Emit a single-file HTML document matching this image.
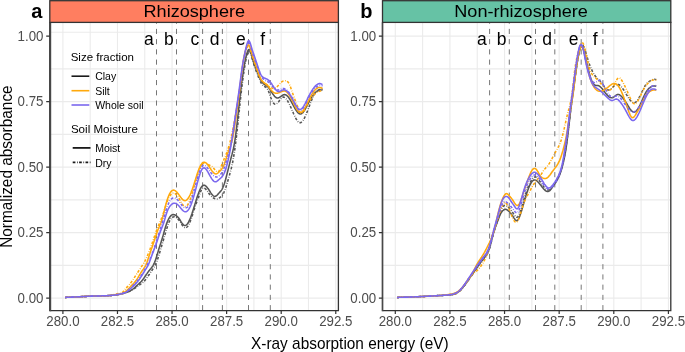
<!DOCTYPE html><html><head><meta charset="utf-8"><style>html,body{margin:0;padding:0;background:#fff;}svg{display:block;will-change:transform;}</style></head><body>
<svg width="685" height="352" viewBox="0 0 685 352" font-family='&quot;Liberation Sans&quot;, sans-serif'>
<rect width="685" height="352" fill="#fff"/>
<path d="M62.90,22.40V310.60M90.19,22.40V310.60M117.47,22.40V310.60M144.76,22.40V310.60M172.05,22.40V310.60M199.34,22.40V310.60M226.62,22.40V310.60M253.91,22.40V310.60M281.20,22.40V310.60M308.49,22.40V310.60M335.77,22.40V310.60M49.80,298.10H338.40M49.80,265.35H338.40M49.80,232.60H338.40M49.80,199.85H338.40M49.80,167.10H338.40M49.80,134.35H338.40M49.80,101.60H338.40M49.80,68.85H338.40M49.80,32.20H338.40" stroke="#EBEBEB" stroke-width="1.1" fill="none"/>
<path d="M156.50,310.20V22.40" stroke="#777" stroke-width="1" stroke-dasharray="5.12 5.11" fill="none"/><path d="M176.50,310.20V22.40" stroke="#777" stroke-width="1" stroke-dasharray="5.12 5.11" fill="none"/><path d="M202.60,310.20V22.40" stroke="#777" stroke-width="1" stroke-dasharray="5.12 5.11" fill="none"/><path d="M222.40,310.20V22.40" stroke="#777" stroke-width="1" stroke-dasharray="5.12 5.11" fill="none"/><path d="M248.50,310.20V22.40" stroke="#777" stroke-width="1" stroke-dasharray="5.12 5.11" fill="none"/><path d="M270.30,310.20V22.40" stroke="#777" stroke-width="1" stroke-dasharray="5.12 5.11" fill="none"/>
<text x="148.80" y="44.6" font-size="17.5" text-anchor="middle" fill="#000">a</text>
<text x="168.80" y="44.6" font-size="17.5" text-anchor="middle" fill="#000">b</text>
<text x="194.90" y="44.6" font-size="17.5" text-anchor="middle" fill="#000">c</text>
<text x="214.70" y="44.6" font-size="17.5" text-anchor="middle" fill="#000">d</text>
<text x="240.80" y="44.6" font-size="17.5" text-anchor="middle" fill="#000">e</text>
<text x="262.60" y="44.6" font-size="17.5" text-anchor="middle" fill="#000">f</text>
<text x="70.7" y="60.8" font-size="11.5" fill="#000">Size fraction</text><path d="M71.5,76.20H89.3" stroke="#1A1A1A" stroke-width="1.6"/><text x="95.2" y="80.00" font-size="10.5" fill="#000">Clay</text><path d="M71.5,90.70H89.3" stroke="#FFA90C" stroke-width="1.6"/><text x="95.2" y="94.50" font-size="10.5" fill="#000">Silt</text><path d="M71.5,105.00H89.3" stroke="#7B68EE" stroke-width="1.6"/><text x="95.2" y="108.80" font-size="10.5" fill="#000">Whole soil</text><text x="70.9" y="132.8" font-size="11.6" fill="#000">Soil Moisture</text><path d="M72.7,147.9H90.5" stroke="#1A1A1A" stroke-width="1.8"/><path d="M72.7,162.4H90.5" stroke="#1A1A1A" stroke-width="1.6" stroke-dasharray="2.7 1.6 0.7 1.4"/><text x="95.2" y="151.6" font-size="10.5" fill="#000">Moist</text><text x="95.2" y="167.0" font-size="10.5" fill="#000">Dry</text>
<path d="M65.0,297.4 L65.5,297.4 L66.0,297.4 L66.5,297.3 L67.0,297.3 L67.5,297.3 L68.0,297.3 L68.5,297.2 L69.0,297.2 L69.5,297.2 L70.0,297.2 L70.5,297.2 L71.0,297.1 L71.5,297.1 L72.0,297.1 L72.5,297.1 L73.0,297.0 L73.5,297.0 L74.0,297.0 L74.5,297.0 L75.0,296.9 L75.5,296.9 L76.0,296.9 L76.5,296.9 L77.0,296.9 L77.5,296.8 L78.0,296.8 L78.5,296.8 L79.0,296.8 L79.5,296.7 L80.0,296.7 L80.5,296.7 L81.0,296.6 L81.5,296.6 L82.0,296.6 L82.5,296.6 L83.0,296.5 L83.5,296.5 L84.0,296.5 L84.5,296.5 L85.0,296.4 L85.5,296.4 L86.0,296.4 L86.5,296.4 L87.0,296.3 L87.5,296.3 L88.0,296.3 L88.5,296.3 L89.0,296.2 L89.5,296.2 L90.0,296.2 L90.5,296.2 L91.0,296.1 L91.5,296.1 L92.0,296.1 L92.5,296.1 L93.0,296.1 L93.5,296.0 L94.0,296.0 L94.5,296.0 L95.0,296.0 L95.5,296.0 L96.0,296.0 L96.5,296.0 L97.0,296.0 L97.5,295.9 L98.0,295.9 L98.5,295.9 L99.0,295.9 L99.5,295.9 L100.0,295.9 L100.5,295.9 L101.0,295.9 L101.5,295.9 L102.0,295.9 L102.5,295.8 L103.0,295.8 L103.5,295.8 L104.0,295.8 L104.5,295.8 L105.0,295.8 L105.5,295.7 L106.0,295.7 L106.5,295.7 L107.0,295.7 L107.5,295.7 L108.0,295.6 L108.5,295.6 L109.0,295.6 L109.5,295.5 L110.0,295.5 L110.5,295.5 L111.0,295.4 L111.5,295.4 L112.0,295.3 L112.5,295.3 L113.0,295.2 L113.5,295.2 L114.0,295.1 L114.5,295.1 L115.0,295.0 L115.5,294.9 L116.0,294.9 L116.5,294.8 L117.0,294.7 L117.5,294.6 L118.0,294.6 L118.5,294.5 L119.0,294.4 L119.5,294.3 L120.0,294.2 L120.5,294.1 L121.0,294.0 L121.5,293.9 L122.0,293.8 L122.5,293.7 L123.0,293.6 L123.5,293.4 L124.0,293.3 L124.5,293.1 L125.0,293.0 L125.5,292.8 L126.0,292.7 L126.5,292.5 L127.0,292.3 L127.5,292.2 L128.0,292.0 L128.5,291.8 L129.0,291.6 L129.5,291.3 L130.0,291.1 L130.5,290.9 L131.0,290.6 L131.5,290.4 L132.0,290.1 L132.5,289.8 L133.0,289.5 L133.5,289.2 L134.0,288.8 L134.5,288.5 L135.0,288.1 L135.5,287.8 L136.0,287.4 L136.5,287.0 L137.0,286.7 L137.5,286.3 L138.0,285.9 L138.5,285.6 L139.0,285.2 L139.5,284.9 L140.0,284.6 L140.5,284.2 L141.0,283.9 L141.5,283.5 L142.0,283.2 L142.5,282.8 L143.0,282.3 L143.5,281.9 L144.0,281.4 L144.5,280.9 L145.0,280.3 L145.5,279.7 L146.0,279.1 L146.5,278.4 L147.0,277.7 L147.5,277.0 L148.0,276.3 L148.5,275.5 L149.0,274.8 L149.5,274.1 L150.0,273.3 L150.5,272.6 L151.0,271.8 L151.5,271.1 L152.0,270.3 L152.5,269.5 L153.0,268.8 L153.5,268.0 L154.0,267.2 L154.5,266.3 L155.0,265.4 L155.5,264.5 L156.0,263.4 L156.5,262.3 L157.0,261.0 L157.5,259.6 L158.0,258.1 L158.5,256.5 L159.0,254.8 L159.5,253.2 L160.0,251.5 L160.5,249.7 L161.0,248.0 L161.5,246.4 L162.0,244.7 L162.5,243.0 L163.0,241.4 L163.5,239.7 L164.0,238.0 L164.5,236.3 L165.0,234.6 L165.5,232.9 L166.0,231.2 L166.5,229.5 L167.0,227.9 L167.5,226.4 L168.0,224.9 L168.5,223.6 L169.0,222.3 L169.5,221.2 L170.0,220.2 L170.5,219.4 L171.0,218.7 L171.5,218.1 L172.0,217.6 L172.5,217.3 L173.0,217.0 L173.5,216.9 L174.0,216.8 L174.5,216.8 L175.0,216.9 L175.5,217.1 L176.0,217.3 L176.5,217.7 L177.0,218.1 L177.5,218.5 L178.0,219.1 L178.5,219.7 L179.0,220.3 L179.5,221.0 L180.0,221.7 L180.5,222.5 L181.0,223.3 L181.5,224.1 L182.0,224.8 L182.5,225.5 L183.0,226.1 L183.5,226.7 L184.0,227.2 L184.5,227.5 L185.0,227.7 L185.5,227.8 L186.0,227.7 L186.5,227.4 L187.0,227.0 L187.5,226.5 L188.0,225.9 L188.5,225.1 L189.0,224.2 L189.5,223.2 L190.0,222.0 L190.5,220.7 L191.0,219.4 L191.5,217.9 L192.0,216.4 L192.5,214.9 L193.0,213.3 L193.5,211.7 L194.0,210.1 L194.5,208.5 L195.0,207.0 L195.5,205.5 L196.0,204.1 L196.5,202.7 L197.0,201.4 L197.5,200.0 L198.0,198.7 L198.5,197.4 L199.0,196.0 L199.5,194.6 L200.0,193.3 L200.5,192.0 L201.0,190.8 L201.5,189.8 L202.0,189.1 L202.5,188.5 L203.0,188.2 L203.5,188.0 L204.0,188.0 L204.5,188.2 L205.0,188.5 L205.5,188.9 L206.0,189.4 L206.5,190.0 L207.0,190.7 L207.5,191.4 L208.0,192.1 L208.5,192.8 L209.0,193.5 L209.5,194.2 L210.0,194.8 L210.5,195.4 L211.0,195.9 L211.5,196.4 L212.0,196.9 L212.5,197.3 L213.0,197.7 L213.5,198.0 L214.0,198.3 L214.5,198.5 L215.0,198.7 L215.5,198.8 L216.0,198.9 L216.5,198.9 L217.0,198.9 L217.5,198.8 L218.0,198.6 L218.5,198.4 L219.0,198.1 L219.5,197.8 L220.0,197.5 L220.5,197.1 L221.0,196.7 L221.5,196.2 L222.0,195.6 L222.5,195.0 L223.0,194.2 L223.5,193.3 L224.0,192.3 L224.5,191.1 L225.0,189.8 L225.5,188.4 L226.0,186.9 L226.5,185.3 L227.0,183.6 L227.5,182.0 L228.0,180.3 L228.5,178.5 L229.0,176.8 L229.5,175.1 L230.0,173.3 L230.5,171.5 L231.0,169.6 L231.5,167.6 L232.0,165.4 L232.5,163.1 L233.0,160.5 L233.5,157.7 L234.0,154.7 L234.5,151.4 L235.0,147.9 L235.5,144.2 L236.0,140.2 L236.5,136.1 L237.0,131.8 L237.5,127.3 L238.0,122.7 L238.5,118.0 L239.0,113.2 L239.5,108.4 L240.0,103.7 L240.5,99.0 L241.0,94.4 L241.5,90.0 L242.0,85.8 L242.5,81.9 L243.0,78.1 L243.5,74.6 L244.0,71.2 L244.5,68.0 L245.0,65.0 L245.5,62.1 L246.0,59.5 L246.5,57.1 L247.0,55.0 L247.5,53.2 L248.0,51.8 L248.5,50.9 L249.0,50.5 L249.5,50.8 L250.0,51.6 L250.5,52.8 L251.0,54.4 L251.5,56.1 L252.0,58.0 L252.5,59.9 L253.0,61.7 L253.5,63.3 L254.0,64.9 L254.5,66.4 L255.0,67.9 L255.5,69.2 L256.0,70.6 L256.5,71.9 L257.0,73.2 L257.5,74.5 L258.0,75.8 L258.5,77.1 L259.0,78.3 L259.5,79.5 L260.0,80.6 L260.5,81.6 L261.0,82.6 L261.5,83.5 L262.0,84.2 L262.5,84.9 L263.0,85.4 L263.5,85.9 L264.0,86.3 L264.5,86.5 L265.0,86.8 L265.5,87.0 L266.0,87.3 L266.5,87.7 L267.0,88.3 L267.5,89.1 L268.0,90.1 L268.5,91.2 L269.0,92.5 L269.5,93.9 L270.0,95.3 L270.5,96.7 L271.0,98.1 L271.5,99.4 L272.0,100.5 L272.5,101.5 L273.0,102.4 L273.5,103.1 L274.0,103.6 L274.5,104.0 L275.0,104.2 L275.5,104.2 L276.0,104.1 L276.5,103.9 L277.0,103.5 L277.5,103.1 L278.0,102.5 L278.5,101.9 L279.0,101.2 L279.5,100.5 L280.0,99.9 L280.5,99.2 L281.0,98.6 L281.5,98.1 L282.0,97.7 L282.5,97.3 L283.0,97.1 L283.5,97.1 L284.0,97.2 L284.5,97.4 L285.0,97.7 L285.5,98.1 L286.0,98.6 L286.5,99.3 L287.0,100.0 L287.5,100.7 L288.0,101.6 L288.5,102.5 L289.0,103.4 L289.5,104.5 L290.0,105.5 L290.5,106.6 L291.0,107.7 L291.5,108.8 L292.0,110.0 L292.5,111.2 L293.0,112.3 L293.5,113.5 L294.0,114.6 L294.5,115.7 L295.0,116.7 L295.5,117.7 L296.0,118.7 L296.5,119.5 L297.0,120.3 L297.5,121.0 L298.0,121.6 L298.5,122.1 L299.0,122.4 L299.5,122.6 L300.0,122.7 L300.5,122.7 L301.0,122.5 L301.5,122.1 L302.0,121.7 L302.5,121.1 L303.0,120.5 L303.5,119.7 L304.0,118.8 L304.5,117.9 L305.0,116.9 L305.5,115.8 L306.0,114.7 L306.5,113.5 L307.0,112.2 L307.5,111.0 L308.0,109.7 L308.5,108.3 L309.0,107.0 L309.5,105.7 L310.0,104.3 L310.5,103.0 L311.0,101.7 L311.5,100.5 L312.0,99.3 L312.5,98.1 L313.0,97.0 L313.5,95.9 L314.0,95.0 L314.5,94.1 L315.0,93.3 L315.5,92.6 L316.0,92.0 L316.5,91.4 L317.0,91.0 L317.5,90.6 L318.0,90.2 L318.5,90.0 L319.0,89.7 L319.5,89.6 L320.0,89.4 L320.5,89.3 L321.0,89.2 L321.5,89.1 L322.0,89.1 L322.5,89.0" stroke="#555555" stroke-width="1.55" fill="none" stroke-linejoin="round" stroke-dasharray="2.7 1.6 0.7 1.4"/>
<path d="M65.0,297.4 L65.5,297.4 L66.0,297.4 L66.5,297.3 L67.0,297.3 L67.5,297.3 L68.0,297.3 L68.5,297.2 L69.0,297.2 L69.5,297.2 L70.0,297.2 L70.5,297.2 L71.0,297.1 L71.5,297.1 L72.0,297.1 L72.5,297.1 L73.0,297.0 L73.5,297.0 L74.0,297.0 L74.5,297.0 L75.0,296.9 L75.5,296.9 L76.0,296.9 L76.5,296.9 L77.0,296.9 L77.5,296.8 L78.0,296.8 L78.5,296.8 L79.0,296.8 L79.5,296.7 L80.0,296.7 L80.5,296.7 L81.0,296.6 L81.5,296.6 L82.0,296.6 L82.5,296.6 L83.0,296.5 L83.5,296.5 L84.0,296.5 L84.5,296.5 L85.0,296.4 L85.5,296.4 L86.0,296.4 L86.5,296.4 L87.0,296.3 L87.5,296.3 L88.0,296.3 L88.5,296.3 L89.0,296.2 L89.5,296.2 L90.0,296.2 L90.5,296.2 L91.0,296.1 L91.5,296.1 L92.0,296.1 L92.5,296.1 L93.0,296.1 L93.5,296.0 L94.0,296.0 L94.5,296.0 L95.0,296.0 L95.5,296.0 L96.0,296.0 L96.5,296.0 L97.0,295.9 L97.5,295.9 L98.0,295.9 L98.5,295.9 L99.0,295.9 L99.5,295.9 L100.0,295.9 L100.5,295.9 L101.0,295.9 L101.5,295.9 L102.0,295.8 L102.5,295.8 L103.0,295.8 L103.5,295.8 L104.0,295.8 L104.5,295.8 L105.0,295.8 L105.5,295.7 L106.0,295.7 L106.5,295.7 L107.0,295.7 L107.5,295.7 L108.0,295.6 L108.5,295.6 L109.0,295.6 L109.5,295.5 L110.0,295.5 L110.5,295.5 L111.0,295.4 L111.5,295.4 L112.0,295.3 L112.5,295.3 L113.0,295.2 L113.5,295.2 L114.0,295.1 L114.5,295.1 L115.0,295.0 L115.5,294.9 L116.0,294.9 L116.5,294.8 L117.0,294.7 L117.5,294.6 L118.0,294.5 L118.5,294.5 L119.0,294.4 L119.5,294.3 L120.0,294.2 L120.5,294.1 L121.0,293.9 L121.5,293.8 L122.0,293.7 L122.5,293.6 L123.0,293.4 L123.5,293.3 L124.0,293.2 L124.5,293.0 L125.0,292.9 L125.5,292.7 L126.0,292.5 L126.5,292.3 L127.0,292.2 L127.5,292.0 L128.0,291.8 L128.5,291.6 L129.0,291.3 L129.5,291.1 L130.0,290.9 L130.5,290.6 L131.0,290.3 L131.5,290.0 L132.0,289.7 L132.5,289.4 L133.0,289.0 L133.5,288.6 L134.0,288.2 L134.5,287.8 L135.0,287.3 L135.5,286.9 L136.0,286.4 L136.5,285.9 L137.0,285.4 L137.5,285.0 L138.0,284.5 L138.5,284.0 L139.0,283.6 L139.5,283.1 L140.0,282.7 L140.5,282.2 L141.0,281.7 L141.5,281.2 L142.0,280.6 L142.5,280.0 L143.0,279.3 L143.5,278.7 L144.0,278.0 L144.5,277.2 L145.0,276.5 L145.5,275.8 L146.0,275.0 L146.5,274.3 L147.0,273.6 L147.5,272.8 L148.0,272.1 L148.5,271.5 L149.0,270.8 L149.5,270.2 L150.0,269.6 L150.5,269.0 L151.0,268.4 L151.5,267.7 L152.0,267.1 L152.5,266.4 L153.0,265.6 L153.5,264.7 L154.0,263.7 L154.5,262.6 L155.0,261.4 L155.5,260.0 L156.0,258.5 L156.5,256.9 L157.0,255.3 L157.5,253.6 L158.0,251.9 L158.5,250.2 L159.0,248.6 L159.5,247.0 L160.0,245.5 L160.5,243.9 L161.0,242.4 L161.5,240.8 L162.0,239.2 L162.5,237.6 L163.0,235.9 L163.5,234.1 L164.0,232.2 L164.5,230.4 L165.0,228.7 L165.5,227.0 L166.0,225.4 L166.5,223.9 L167.0,222.6 L167.5,221.4 L168.0,220.3 L168.5,219.2 L169.0,218.3 L169.5,217.5 L170.0,216.8 L170.5,216.1 L171.0,215.6 L171.5,215.2 L172.0,214.9 L172.5,214.7 L173.0,214.6 L173.5,214.6 L174.0,214.7 L174.5,214.8 L175.0,215.0 L175.5,215.2 L176.0,215.5 L176.5,215.8 L177.0,216.3 L177.5,216.7 L178.0,217.2 L178.5,217.8 L179.0,218.5 L179.5,219.2 L180.0,220.0 L180.5,220.8 L181.0,221.6 L181.5,222.3 L182.0,223.1 L182.5,223.8 L183.0,224.3 L183.5,224.8 L184.0,225.2 L184.5,225.4 L185.0,225.5 L185.5,225.4 L186.0,225.2 L186.5,224.8 L187.0,224.3 L187.5,223.7 L188.0,223.0 L188.5,222.2 L189.0,221.2 L189.5,220.2 L190.0,219.0 L190.5,217.8 L191.0,216.4 L191.5,215.0 L192.0,213.6 L192.5,212.0 L193.0,210.5 L193.5,208.9 L194.0,207.3 L194.5,205.6 L195.0,204.0 L195.5,202.4 L196.0,200.8 L196.5,199.2 L197.0,197.6 L197.5,196.1 L198.0,194.7 L198.5,193.3 L199.0,192.0 L199.5,190.8 L200.0,189.6 L200.5,188.6 L201.0,187.7 L201.5,186.9 L202.0,186.3 L202.5,185.8 L203.0,185.5 L203.5,185.3 L204.0,185.2 L204.5,185.3 L205.0,185.5 L205.5,185.8 L206.0,186.2 L206.5,186.7 L207.0,187.2 L207.5,187.9 L208.0,188.5 L208.5,189.3 L209.0,190.0 L209.5,190.8 L210.0,191.5 L210.5,192.3 L211.0,193.1 L211.5,193.8 L212.0,194.4 L212.5,195.0 L213.0,195.5 L213.5,195.9 L214.0,196.2 L214.5,196.4 L215.0,196.4 L215.5,196.3 L216.0,196.0 L216.5,195.7 L217.0,195.2 L217.5,194.7 L218.0,194.1 L218.5,193.6 L219.0,193.0 L219.5,192.5 L220.0,191.9 L220.5,191.4 L221.0,190.8 L221.5,190.1 L222.0,189.3 L222.5,188.4 L223.0,187.3 L223.5,186.1 L224.0,184.7 L224.5,183.2 L225.0,181.5 L225.5,179.8 L226.0,177.9 L226.5,176.0 L227.0,174.1 L227.5,172.1 L228.0,170.1 L228.5,168.1 L229.0,166.1 L229.5,164.1 L230.0,162.1 L230.5,160.1 L231.0,158.1 L231.5,156.2 L232.0,154.4 L232.5,152.4 L233.0,150.4 L233.5,148.2 L234.0,145.7 L234.5,142.9 L235.0,139.8 L235.5,136.3 L236.0,132.4 L236.5,128.3 L237.0,124.0 L237.5,119.6 L238.0,115.0 L238.5,110.4 L239.0,105.7 L239.5,101.1 L240.0,96.6 L240.5,92.2 L241.0,88.0 L241.5,84.0 L242.0,80.2 L242.5,76.6 L243.0,73.2 L243.5,70.0 L244.0,67.0 L244.5,64.2 L245.0,61.6 L245.5,59.2 L246.0,57.0 L246.5,55.0 L247.0,53.2 L247.5,51.7 L248.0,50.5 L248.5,49.7 L249.0,49.5 L249.5,49.8 L250.0,50.6 L250.5,51.8 L251.0,53.3 L251.5,55.0 L252.0,56.7 L252.5,58.5 L253.0,60.2 L253.5,61.7 L254.0,63.2 L254.5,64.7 L255.0,66.0 L255.5,67.4 L256.0,68.7 L256.5,70.0 L257.0,71.3 L257.5,72.6 L258.0,73.9 L258.5,75.1 L259.0,76.3 L259.5,77.4 L260.0,78.5 L260.5,79.5 L261.0,80.4 L261.5,81.2 L262.0,82.0 L262.5,82.6 L263.0,83.2 L263.5,83.7 L264.0,84.1 L264.5,84.5 L265.0,84.9 L265.5,85.2 L266.0,85.5 L266.5,85.9 L267.0,86.2 L267.5,86.6 L268.0,87.0 L268.5,87.5 L269.0,88.1 L269.5,88.8 L270.0,89.5 L270.5,90.2 L271.0,91.0 L271.5,91.8 L272.0,92.7 L272.5,93.5 L273.0,94.2 L273.5,94.9 L274.0,95.6 L274.5,96.2 L275.0,96.7 L275.5,97.2 L276.0,97.5 L276.5,97.8 L277.0,98.0 L277.5,98.0 L278.0,98.0 L278.5,97.8 L279.0,97.6 L279.5,97.3 L280.0,97.0 L280.5,96.7 L281.0,96.3 L281.5,96.0 L282.0,95.6 L282.5,95.3 L283.0,95.0 L283.5,94.8 L284.0,94.7 L284.5,94.6 L285.0,94.7 L285.5,94.8 L286.0,95.0 L286.5,95.3 L287.0,95.7 L287.5,96.2 L288.0,96.7 L288.5,97.3 L289.0,98.0 L289.5,98.7 L290.0,99.5 L290.5,100.3 L291.0,101.2 L291.5,102.1 L292.0,103.0 L292.5,103.9 L293.0,104.9 L293.5,105.8 L294.0,106.7 L294.5,107.6 L295.0,108.5 L295.5,109.4 L296.0,110.2 L296.5,110.9 L297.0,111.6 L297.5,112.2 L298.0,112.8 L298.5,113.2 L299.0,113.6 L299.5,113.8 L300.0,114.0 L300.5,114.0 L301.0,113.9 L301.5,113.7 L302.0,113.3 L302.5,112.9 L303.0,112.4 L303.5,111.7 L304.0,111.1 L304.5,110.3 L305.0,109.5 L305.5,108.6 L306.0,107.7 L306.5,106.8 L307.0,105.8 L307.5,104.8 L308.0,103.9 L308.5,102.9 L309.0,102.0 L309.5,101.0 L310.0,100.1 L310.5,99.3 L311.0,98.4 L311.5,97.6 L312.0,96.8 L312.5,96.1 L313.0,95.4 L313.5,94.7 L314.0,94.1 L314.5,93.5 L315.0,92.9 L315.5,92.4 L316.0,92.0 L316.5,91.6 L317.0,91.3 L317.5,91.0 L318.0,90.8 L318.5,90.6 L319.0,90.4 L319.5,90.2 L320.0,90.1 L320.5,90.0 L321.0,90.0 L321.5,89.9 L322.0,89.9 L322.5,89.8" stroke="#555555" stroke-width="1.55" fill="none" stroke-linejoin="round"/>
<path d="M65.0,297.4 L65.5,297.4 L66.0,297.4 L66.5,297.3 L67.0,297.3 L67.5,297.3 L68.0,297.3 L68.5,297.3 L69.0,297.2 L69.5,297.2 L70.0,297.2 L70.5,297.2 L71.0,297.2 L71.5,297.1 L72.0,297.1 L72.5,297.1 L73.0,297.1 L73.5,297.0 L74.0,297.0 L74.5,297.0 L75.0,297.0 L75.5,296.9 L76.0,296.9 L76.5,296.9 L77.0,296.9 L77.5,296.8 L78.0,296.8 L78.5,296.8 L79.0,296.8 L79.5,296.7 L80.0,296.7 L80.5,296.7 L81.0,296.6 L81.5,296.6 L82.0,296.6 L82.5,296.5 L83.0,296.5 L83.5,296.5 L84.0,296.4 L84.5,296.4 L85.0,296.4 L85.5,296.3 L86.0,296.3 L86.5,296.3 L87.0,296.3 L87.5,296.2 L88.0,296.2 L88.5,296.2 L89.0,296.1 L89.5,296.1 L90.0,296.1 L90.5,296.1 L91.0,296.1 L91.5,296.0 L92.0,296.0 L92.5,296.0 L93.0,296.0 L93.5,296.0 L94.0,296.0 L94.5,296.0 L95.0,296.0 L95.5,296.0 L96.0,296.0 L96.5,296.0 L97.0,296.0 L97.5,296.0 L98.0,296.1 L98.5,296.1 L99.0,296.1 L99.5,296.1 L100.0,296.1 L100.5,296.1 L101.0,296.1 L101.5,296.1 L102.0,296.1 L102.5,296.1 L103.0,296.1 L103.5,296.1 L104.0,296.1 L104.5,296.1 L105.0,296.1 L105.5,296.0 L106.0,296.0 L106.5,296.0 L107.0,295.9 L107.5,295.9 L108.0,295.8 L108.5,295.8 L109.0,295.7 L109.5,295.6 L110.0,295.5 L110.5,295.4 L111.0,295.3 L111.5,295.2 L112.0,295.0 L112.5,294.9 L113.0,294.8 L113.5,294.6 L114.0,294.5 L114.5,294.4 L115.0,294.2 L115.5,294.1 L116.0,294.0 L116.5,293.9 L117.0,293.8 L117.5,293.7 L118.0,293.6 L118.5,293.5 L119.0,293.4 L119.5,293.3 L120.0,293.3 L120.5,293.2 L121.0,293.1 L121.5,292.9 L122.0,292.7 L122.5,292.3 L123.0,291.9 L123.5,291.4 L124.0,290.8 L124.5,290.2 L125.0,289.5 L125.5,288.9 L126.0,288.3 L126.5,287.7 L127.0,287.1 L127.5,286.6 L128.0,286.1 L128.5,285.5 L129.0,285.0 L129.5,284.4 L130.0,283.8 L130.5,283.2 L131.0,282.6 L131.5,281.9 L132.0,281.2 L132.5,280.5 L133.0,279.7 L133.5,278.9 L134.0,278.2 L134.5,277.4 L135.0,276.6 L135.5,275.8 L136.0,275.0 L136.5,274.3 L137.0,273.5 L137.5,272.8 L138.0,272.0 L138.5,271.3 L139.0,270.5 L139.5,269.8 L140.0,269.0 L140.5,268.3 L141.0,267.5 L141.5,266.7 L142.0,265.9 L142.5,265.1 L143.0,264.3 L143.5,263.5 L144.0,262.6 L144.5,261.7 L145.0,260.8 L145.5,259.8 L146.0,258.8 L146.5,257.7 L147.0,256.7 L147.5,255.5 L148.0,254.3 L148.5,253.1 L149.0,251.9 L149.5,250.6 L150.0,249.3 L150.5,247.9 L151.0,246.6 L151.5,245.2 L152.0,243.7 L152.5,242.3 L153.0,240.8 L153.5,239.3 L154.0,237.8 L154.5,236.3 L155.0,234.9 L155.5,233.4 L156.0,232.0 L156.5,230.6 L157.0,229.3 L157.5,228.0 L158.0,226.8 L158.5,225.6 L159.0,224.4 L159.5,223.2 L160.0,222.1 L160.5,220.9 L161.0,219.7 L161.5,218.4 L162.0,217.1 L162.5,215.7 L163.0,214.2 L163.5,212.7 L164.0,211.1 L164.5,209.6 L165.0,208.0 L165.5,206.4 L166.0,204.9 L166.5,203.4 L167.0,202.0 L167.5,200.7 L168.0,199.5 L168.5,198.4 L169.0,197.4 L169.5,196.5 L170.0,195.7 L170.5,195.0 L171.0,194.4 L171.5,193.9 L172.0,193.5 L172.5,193.2 L173.0,193.1 L173.5,193.0 L174.0,193.1 L174.5,193.2 L175.0,193.5 L175.5,193.9 L176.0,194.3 L176.5,194.9 L177.0,195.5 L177.5,196.2 L178.0,196.9 L178.5,197.7 L179.0,198.5 L179.5,199.4 L180.0,200.2 L180.5,201.1 L181.0,202.0 L181.5,202.8 L182.0,203.6 L182.5,204.4 L183.0,205.0 L183.5,205.6 L184.0,206.0 L184.5,206.3 L185.0,206.5 L185.5,206.5 L186.0,206.4 L186.5,206.1 L187.0,205.6 L187.5,205.0 L188.0,204.3 L188.5,203.4 L189.0,202.4 L189.5,201.3 L190.0,200.0 L190.5,198.6 L191.0,197.1 L191.5,195.5 L192.0,193.9 L192.5,192.1 L193.0,190.3 L193.5,188.5 L194.0,186.7 L194.5,184.8 L195.0,183.0 L195.5,181.2 L196.0,179.4 L196.5,177.7 L197.0,176.0 L197.5,174.4 L198.0,172.8 L198.5,171.4 L199.0,170.0 L199.5,168.8 L200.0,167.6 L200.5,166.6 L201.0,165.7 L201.5,164.9 L202.0,164.2 L202.5,163.7 L203.0,163.3 L203.5,163.0 L204.0,162.8 L204.5,162.8 L205.0,162.8 L205.5,163.0 L206.0,163.2 L206.5,163.4 L207.0,163.7 L207.5,164.0 L208.0,164.4 L208.5,164.7 L209.0,165.0 L209.5,165.3 L210.0,165.5 L210.5,165.8 L211.0,166.0 L211.5,166.3 L212.0,166.6 L212.5,167.0 L213.0,167.5 L213.5,168.1 L214.0,168.7 L214.5,169.3 L215.0,170.0 L215.5,170.6 L216.0,171.1 L216.5,171.5 L217.0,171.8 L217.5,172.0 L218.0,171.9 L218.5,171.6 L219.0,171.0 L219.5,170.3 L220.0,169.3 L220.5,168.2 L221.0,166.9 L221.5,165.6 L222.0,164.3 L222.5,163.0 L223.0,161.7 L223.5,160.5 L224.0,159.3 L224.5,158.1 L225.0,157.0 L225.5,155.8 L226.0,154.6 L226.5,153.3 L227.0,152.0 L227.5,150.6 L228.0,149.1 L228.5,147.5 L229.0,145.8 L229.5,144.0 L230.0,142.1 L230.5,140.1 L231.0,138.0 L231.5,135.8 L232.0,133.5 L232.5,131.1 L233.0,128.6 L233.5,126.0 L234.0,123.3 L234.5,120.6 L235.0,117.8 L235.5,114.9 L236.0,112.0 L236.5,109.0 L237.0,106.0 L237.5,102.9 L238.0,99.8 L238.5,96.5 L239.0,93.1 L239.5,89.6 L240.0,86.0 L240.5,82.3 L241.0,78.4 L241.5,74.6 L242.0,70.9 L242.5,67.3 L243.0,64.0 L243.5,61.0 L244.0,58.2 L244.5,55.7 L245.0,53.6 L245.5,51.6 L246.0,50.0 L246.5,48.6 L247.0,47.5 L247.5,46.8 L248.0,46.4 L248.5,46.4 L249.0,46.8 L249.5,47.6 L250.0,48.7 L250.5,50.1 L251.0,51.7 L251.5,53.3 L252.0,55.0 L252.5,56.6 L253.0,58.2 L253.5,59.8 L254.0,61.3 L254.5,62.7 L255.0,64.2 L255.5,65.6 L256.0,67.0 L256.5,68.4 L257.0,69.7 L257.5,71.1 L258.0,72.4 L258.5,73.6 L259.0,74.8 L259.5,75.9 L260.0,77.0 L260.5,78.0 L261.0,78.9 L261.5,79.8 L262.0,80.6 L262.5,81.3 L263.0,81.9 L263.5,82.5 L264.0,83.0 L264.5,83.4 L265.0,83.8 L265.5,84.2 L266.0,84.5 L266.5,84.8 L267.0,85.0 L267.5,85.3 L268.0,85.6 L268.5,85.8 L269.0,86.2 L269.5,86.5 L270.0,86.8 L270.5,87.2 L271.0,87.5 L271.5,87.8 L272.0,88.1 L272.5,88.3 L273.0,88.4 L273.5,88.5 L274.0,88.5 L274.5,88.4 L275.0,88.2 L275.5,87.9 L276.0,87.6 L276.5,87.2 L277.0,86.8 L277.5,86.3 L278.0,85.8 L278.5,85.2 L279.0,84.6 L279.5,84.1 L280.0,83.5 L280.5,83.0 L281.0,82.5 L281.5,82.1 L282.0,81.7 L282.5,81.4 L283.0,81.1 L283.5,80.9 L284.0,80.8 L284.5,80.7 L285.0,80.7 L285.5,80.7 L286.0,80.8 L286.5,81.0 L287.0,81.2 L287.5,81.6 L288.0,82.0 L288.5,82.7 L289.0,83.5 L289.5,84.5 L290.0,85.7 L290.5,87.0 L291.0,88.4 L291.5,89.9 L292.0,91.4 L292.5,92.9 L293.0,94.3 L293.5,95.8 L294.0,97.1 L294.5,98.5 L295.0,99.8 L295.5,101.1 L296.0,102.4 L296.5,103.7 L297.0,105.0 L297.5,106.3 L298.0,107.6 L298.5,108.9 L299.0,110.0 L299.5,111.1 L300.0,111.9 L300.5,112.6 L301.0,113.1 L301.5,113.3 L302.0,113.3 L302.5,113.0 L303.0,112.5 L303.5,111.8 L304.0,111.0 L304.5,110.0 L305.0,109.0 L305.5,108.0 L306.0,107.0 L306.5,106.0 L307.0,105.1 L307.5,104.1 L308.0,103.3 L308.5,102.4 L309.0,101.6 L309.5,100.8 L310.0,100.0 L310.5,99.3 L311.0,98.5 L311.5,97.8 L312.0,97.2 L312.5,96.5 L313.0,95.9 L313.5,95.3 L314.0,94.8 L314.5,94.3 L315.0,93.8 L315.5,93.4 L316.0,93.0 L316.5,92.7 L317.0,92.3 L317.5,92.1 L318.0,91.8 L318.5,91.6 L319.0,91.4 L319.5,91.3 L320.0,91.1 L320.5,91.0 L321.0,90.9 L321.5,90.8 L322.0,90.7 L322.5,90.6" stroke="#FFA90C" stroke-width="1.55" fill="none" stroke-linejoin="round" stroke-dasharray="2.7 1.6 0.7 1.4"/>
<path d="M65.0,297.4 L65.5,297.4 L66.0,297.4 L66.5,297.3 L67.0,297.3 L67.5,297.3 L68.0,297.3 L68.5,297.2 L69.0,297.2 L69.5,297.2 L70.0,297.2 L70.5,297.2 L71.0,297.1 L71.5,297.1 L72.0,297.1 L72.5,297.1 L73.0,297.0 L73.5,297.0 L74.0,297.0 L74.5,297.0 L75.0,296.9 L75.5,296.9 L76.0,296.9 L76.5,296.9 L77.0,296.9 L77.5,296.8 L78.0,296.8 L78.5,296.8 L79.0,296.8 L79.5,296.7 L80.0,296.7 L80.5,296.7 L81.0,296.6 L81.5,296.6 L82.0,296.6 L82.5,296.6 L83.0,296.5 L83.5,296.5 L84.0,296.5 L84.5,296.5 L85.0,296.4 L85.5,296.4 L86.0,296.4 L86.5,296.4 L87.0,296.3 L87.5,296.3 L88.0,296.3 L88.5,296.3 L89.0,296.2 L89.5,296.2 L90.0,296.2 L90.5,296.2 L91.0,296.1 L91.5,296.1 L92.0,296.1 L92.5,296.1 L93.0,296.1 L93.5,296.0 L94.0,296.0 L94.5,296.0 L95.0,296.0 L95.5,296.0 L96.0,296.0 L96.5,296.0 L97.0,296.0 L97.5,295.9 L98.0,295.9 L98.5,295.9 L99.0,295.9 L99.5,295.9 L100.0,295.9 L100.5,295.9 L101.0,295.9 L101.5,295.9 L102.0,295.9 L102.5,295.9 L103.0,295.8 L103.5,295.8 L104.0,295.8 L104.5,295.8 L105.0,295.8 L105.5,295.8 L106.0,295.7 L106.5,295.7 L107.0,295.7 L107.5,295.7 L108.0,295.6 L108.5,295.6 L109.0,295.6 L109.5,295.5 L110.0,295.5 L110.5,295.5 L111.0,295.4 L111.5,295.4 L112.0,295.3 L112.5,295.3 L113.0,295.2 L113.5,295.1 L114.0,295.1 L114.5,295.0 L115.0,294.9 L115.5,294.9 L116.0,294.8 L116.5,294.7 L117.0,294.7 L117.5,294.6 L118.0,294.5 L118.5,294.4 L119.0,294.3 L119.5,294.2 L120.0,294.1 L120.5,294.0 L121.0,293.9 L121.5,293.7 L122.0,293.5 L122.5,293.3 L123.0,293.1 L123.5,292.8 L124.0,292.5 L124.5,292.2 L125.0,291.9 L125.5,291.5 L126.0,291.1 L126.5,290.7 L127.0,290.2 L127.5,289.7 L128.0,289.2 L128.5,288.7 L129.0,288.2 L129.5,287.7 L130.0,287.2 L130.5,286.6 L131.0,286.1 L131.5,285.6 L132.0,285.1 L132.5,284.6 L133.0,284.1 L133.5,283.5 L134.0,283.0 L134.5,282.4 L135.0,281.9 L135.5,281.2 L136.0,280.6 L136.5,279.9 L137.0,279.2 L137.5,278.4 L138.0,277.6 L138.5,276.7 L139.0,275.9 L139.5,275.0 L140.0,274.2 L140.5,273.3 L141.0,272.5 L141.5,271.8 L142.0,271.0 L142.5,270.3 L143.0,269.6 L143.5,268.9 L144.0,268.1 L144.5,267.3 L145.0,266.5 L145.5,265.6 L146.0,264.6 L146.5,263.4 L147.0,262.2 L147.5,260.8 L148.0,259.3 L148.5,257.8 L149.0,256.2 L149.5,254.7 L150.0,253.2 L150.5,251.7 L151.0,250.2 L151.5,248.8 L152.0,247.4 L152.5,245.9 L153.0,244.5 L153.5,243.0 L154.0,241.5 L154.5,240.0 L155.0,238.4 L155.5,236.9 L156.0,235.4 L156.5,233.9 L157.0,232.4 L157.5,231.1 L158.0,229.7 L158.5,228.5 L159.0,227.3 L159.5,226.2 L160.0,225.0 L160.5,223.8 L161.0,222.5 L161.5,221.1 L162.0,219.6 L162.5,217.9 L163.0,216.1 L163.5,214.1 L164.0,212.1 L164.5,210.0 L165.0,207.9 L165.5,205.9 L166.0,204.0 L166.5,202.2 L167.0,200.5 L167.5,199.0 L168.0,197.5 L168.5,196.2 L169.0,195.0 L169.5,194.0 L170.0,193.1 L170.5,192.3 L171.0,191.6 L171.5,191.1 L172.0,190.7 L172.5,190.4 L173.0,190.2 L173.5,190.1 L174.0,190.2 L174.5,190.3 L175.0,190.6 L175.5,190.9 L176.0,191.3 L176.5,191.8 L177.0,192.3 L177.5,192.9 L178.0,193.5 L178.5,194.2 L179.0,194.9 L179.5,195.6 L180.0,196.3 L180.5,197.0 L181.0,197.6 L181.5,198.3 L182.0,198.9 L182.5,199.4 L183.0,199.8 L183.5,200.2 L184.0,200.5 L184.5,200.6 L185.0,200.7 L185.5,200.6 L186.0,200.4 L186.5,200.1 L187.0,199.7 L187.5,199.1 L188.0,198.5 L188.5,197.8 L189.0,197.0 L189.5,196.0 L190.0,195.0 L190.5,193.9 L191.0,192.7 L191.5,191.4 L192.0,190.1 L192.5,188.7 L193.0,187.2 L193.5,185.7 L194.0,184.2 L194.5,182.6 L195.0,181.0 L195.5,179.4 L196.0,177.8 L196.5,176.2 L197.0,174.7 L197.5,173.1 L198.0,171.7 L198.5,170.3 L199.0,169.0 L199.5,167.8 L200.0,166.7 L200.5,165.7 L201.0,164.8 L201.5,164.1 L202.0,163.4 L202.5,162.9 L203.0,162.6 L203.5,162.3 L204.0,162.2 L204.5,162.2 L205.0,162.4 L205.5,162.6 L206.0,163.0 L206.5,163.4 L207.0,163.9 L207.5,164.5 L208.0,165.1 L208.5,165.8 L209.0,166.5 L209.5,167.2 L210.0,168.0 L210.5,168.7 L211.0,169.5 L211.5,170.2 L212.0,170.9 L212.5,171.5 L213.0,172.1 L213.5,172.6 L214.0,173.1 L214.5,173.5 L215.0,173.7 L215.5,173.9 L216.0,173.9 L216.5,173.8 L217.0,173.6 L217.5,173.3 L218.0,172.9 L218.5,172.5 L219.0,172.0 L219.5,171.5 L220.0,171.0 L220.5,170.5 L221.0,169.9 L221.5,169.3 L222.0,168.7 L222.5,167.9 L223.0,167.0 L223.5,166.0 L224.0,164.9 L224.5,163.6 L225.0,162.1 L225.5,160.6 L226.0,159.0 L226.5,157.4 L227.0,155.8 L227.5,154.1 L228.0,152.6 L228.5,151.1 L229.0,149.7 L229.5,148.3 L230.0,147.1 L230.5,145.7 L231.0,144.3 L231.5,142.7 L232.0,140.8 L232.5,138.7 L233.0,136.2 L233.5,133.4 L234.0,130.4 L234.5,127.3 L235.0,123.9 L235.5,120.5 L236.0,117.0 L236.5,113.5 L237.0,109.9 L237.5,106.3 L238.0,102.6 L238.5,98.9 L239.0,95.0 L239.5,91.1 L240.0,87.0 L240.5,82.8 L241.0,78.6 L241.5,74.4 L242.0,70.3 L242.5,66.5 L243.0,63.0 L243.5,59.9 L244.0,57.1 L244.5,54.7 L245.0,52.5 L245.5,50.6 L246.0,49.0 L246.5,47.6 L247.0,46.4 L247.5,45.5 L248.0,45.0 L248.5,44.9 L249.0,45.3 L249.5,46.1 L250.0,47.3 L250.5,48.7 L251.0,50.4 L251.5,52.1 L252.0,53.9 L252.5,55.6 L253.0,57.2 L253.5,58.7 L254.0,60.1 L254.5,61.5 L255.0,62.9 L255.5,64.4 L256.0,65.9 L256.5,67.5 L257.0,69.1 L257.5,70.6 L258.0,72.1 L258.5,73.5 L259.0,74.9 L259.5,76.1 L260.0,77.3 L260.5,78.3 L261.0,79.3 L261.5,80.1 L262.0,80.8 L262.5,81.3 L263.0,81.8 L263.5,82.2 L264.0,82.6 L264.5,82.9 L265.0,83.3 L265.5,83.6 L266.0,83.9 L266.5,84.3 L267.0,84.8 L267.5,85.3 L268.0,85.9 L268.5,86.5 L269.0,87.2 L269.5,87.9 L270.0,88.5 L270.5,89.2 L271.0,89.9 L271.5,90.5 L272.0,91.0 L272.5,91.5 L273.0,91.9 L273.5,92.3 L274.0,92.6 L274.5,92.9 L275.0,93.1 L275.5,93.2 L276.0,93.3 L276.5,93.3 L277.0,93.3 L277.5,93.2 L278.0,93.1 L278.5,92.9 L279.0,92.7 L279.5,92.5 L280.0,92.3 L280.5,92.1 L281.0,91.9 L281.5,91.6 L282.0,91.5 L282.5,91.3 L283.0,91.2 L283.5,91.1 L284.0,91.0 L284.5,91.0 L285.0,91.1 L285.5,91.3 L286.0,91.5 L286.5,91.8 L287.0,92.2 L287.5,92.7 L288.0,93.3 L288.5,94.0 L289.0,94.7 L289.5,95.5 L290.0,96.3 L290.5,97.1 L291.0,98.1 L291.5,99.0 L292.0,100.0 L292.5,101.0 L293.0,102.0 L293.5,103.1 L294.0,104.1 L294.5,105.1 L295.0,106.1 L295.5,107.1 L296.0,108.0 L296.5,108.8 L297.0,109.6 L297.5,110.3 L298.0,111.0 L298.5,111.5 L299.0,111.9 L299.5,112.3 L300.0,112.4 L300.5,112.5 L301.0,112.4 L301.5,112.2 L302.0,111.9 L302.5,111.4 L303.0,110.8 L303.5,110.1 L304.0,109.4 L304.5,108.6 L305.0,107.7 L305.5,106.7 L306.0,105.8 L306.5,104.7 L307.0,103.7 L307.5,102.7 L308.0,101.6 L308.5,100.6 L309.0,99.6 L309.5,98.6 L310.0,97.6 L310.5,96.7 L311.0,95.8 L311.5,94.9 L312.0,94.1 L312.5,93.3 L313.0,92.6 L313.5,91.9 L314.0,91.2 L314.5,90.6 L315.0,90.0 L315.5,89.5 L316.0,89.0 L316.5,88.6 L317.0,88.3 L317.5,88.0 L318.0,87.7 L318.5,87.6 L319.0,87.5 L319.5,87.5 L320.0,87.5 L320.5,87.6 L321.0,87.8 L321.5,88.0 L322.0,88.2 L322.5,88.5" stroke="#FFA90C" stroke-width="1.55" fill="none" stroke-linejoin="round"/>
<path d="M65.0,297.4 L65.5,297.4 L66.0,297.4 L66.5,297.3 L67.0,297.3 L67.5,297.3 L68.0,297.3 L68.5,297.2 L69.0,297.2 L69.5,297.2 L70.0,297.2 L70.5,297.2 L71.0,297.1 L71.5,297.1 L72.0,297.1 L72.5,297.1 L73.0,297.0 L73.5,297.0 L74.0,297.0 L74.5,297.0 L75.0,297.0 L75.5,296.9 L76.0,296.9 L76.5,296.9 L77.0,296.9 L77.5,296.8 L78.0,296.8 L78.5,296.8 L79.0,296.8 L79.5,296.7 L80.0,296.7 L80.5,296.7 L81.0,296.6 L81.5,296.6 L82.0,296.6 L82.5,296.6 L83.0,296.5 L83.5,296.5 L84.0,296.5 L84.5,296.5 L85.0,296.4 L85.5,296.4 L86.0,296.4 L86.5,296.3 L87.0,296.3 L87.5,296.3 L88.0,296.3 L88.5,296.2 L89.0,296.2 L89.5,296.2 L90.0,296.2 L90.5,296.2 L91.0,296.1 L91.5,296.1 L92.0,296.1 L92.5,296.1 L93.0,296.1 L93.5,296.0 L94.0,296.0 L94.5,296.0 L95.0,296.0 L95.5,296.0 L96.0,296.0 L96.5,296.0 L97.0,296.0 L97.5,296.0 L98.0,295.9 L98.5,295.9 L99.0,295.9 L99.5,295.9 L100.0,295.9 L100.5,295.9 L101.0,295.9 L101.5,295.9 L102.0,295.9 L102.5,295.9 L103.0,295.9 L103.5,295.9 L104.0,295.8 L104.5,295.8 L105.0,295.8 L105.5,295.8 L106.0,295.8 L106.5,295.8 L107.0,295.7 L107.5,295.7 L108.0,295.7 L108.5,295.6 L109.0,295.6 L109.5,295.5 L110.0,295.5 L110.5,295.5 L111.0,295.4 L111.5,295.3 L112.0,295.3 L112.5,295.2 L113.0,295.2 L113.5,295.1 L114.0,295.0 L114.5,294.9 L115.0,294.9 L115.5,294.8 L116.0,294.7 L116.5,294.6 L117.0,294.6 L117.5,294.5 L118.0,294.4 L118.5,294.3 L119.0,294.2 L119.5,294.1 L120.0,294.1 L120.5,294.0 L121.0,293.8 L121.5,293.7 L122.0,293.6 L122.5,293.4 L123.0,293.3 L123.5,293.1 L124.0,292.9 L124.5,292.7 L125.0,292.4 L125.5,292.1 L126.0,291.8 L126.5,291.5 L127.0,291.2 L127.5,290.8 L128.0,290.4 L128.5,290.0 L129.0,289.6 L129.5,289.1 L130.0,288.7 L130.5,288.2 L131.0,287.8 L131.5,287.3 L132.0,286.8 L132.5,286.3 L133.0,285.8 L133.5,285.2 L134.0,284.7 L134.5,284.2 L135.0,283.6 L135.5,283.0 L136.0,282.5 L136.5,281.9 L137.0,281.3 L137.5,280.7 L138.0,280.0 L138.5,279.4 L139.0,278.7 L139.5,278.0 L140.0,277.3 L140.5,276.6 L141.0,275.8 L141.5,275.0 L142.0,274.2 L142.5,273.4 L143.0,272.5 L143.5,271.7 L144.0,270.8 L144.5,269.9 L145.0,269.0 L145.5,268.1 L146.0,267.2 L146.5,266.3 L147.0,265.3 L147.5,264.3 L148.0,263.3 L148.5,262.3 L149.0,261.2 L149.5,260.1 L150.0,259.0 L150.5,257.8 L151.0,256.6 L151.5,255.3 L152.0,254.0 L152.5,252.6 L153.0,251.3 L153.5,249.9 L154.0,248.4 L154.5,247.0 L155.0,245.5 L155.5,244.0 L156.0,242.5 L156.5,241.0 L157.0,239.4 L157.5,237.9 L158.0,236.3 L158.5,234.8 L159.0,233.2 L159.5,231.6 L160.0,230.0 L160.5,228.4 L161.0,226.8 L161.5,225.2 L162.0,223.6 L162.5,221.9 L163.0,220.3 L163.5,218.7 L164.0,217.0 L164.5,215.3 L165.0,213.7 L165.5,212.0 L166.0,210.4 L166.5,208.9 L167.0,207.4 L167.5,206.0 L168.0,204.7 L168.5,203.6 L169.0,202.5 L169.5,201.6 L170.0,200.7 L170.5,200.0 L171.0,199.4 L171.5,198.9 L172.0,198.5 L172.5,198.2 L173.0,198.0 L173.5,197.9 L174.0,197.9 L174.5,197.9 L175.0,198.1 L175.5,198.3 L176.0,198.6 L176.5,198.9 L177.0,199.4 L177.5,199.8 L178.0,200.3 L178.5,200.9 L179.0,201.5 L179.5,202.1 L180.0,202.8 L180.5,203.5 L181.0,204.1 L181.5,204.8 L182.0,205.4 L182.5,206.0 L183.0,206.5 L183.5,206.9 L184.0,207.3 L184.5,207.6 L185.0,207.8 L185.5,207.9 L186.0,207.8 L186.5,207.7 L187.0,207.4 L187.5,207.0 L188.0,206.4 L188.5,205.8 L189.0,205.0 L189.5,204.1 L190.0,203.0 L190.5,201.8 L191.0,200.5 L191.5,199.1 L192.0,197.5 L192.5,195.9 L193.0,194.2 L193.5,192.5 L194.0,190.7 L194.5,188.9 L195.0,187.0 L195.5,185.1 L196.0,183.3 L196.5,181.4 L197.0,179.6 L197.5,177.8 L198.0,176.1 L198.5,174.5 L199.0,173.0 L199.5,171.6 L200.0,170.3 L200.5,169.1 L201.0,168.1 L201.5,167.2 L202.0,166.5 L202.5,165.9 L203.0,165.5 L203.5,165.3 L204.0,165.2 L204.5,165.3 L205.0,165.5 L205.5,165.8 L206.0,166.2 L206.5,166.7 L207.0,167.3 L207.5,167.9 L208.0,168.6 L208.5,169.3 L209.0,170.0 L209.5,170.7 L210.0,171.4 L210.5,172.1 L211.0,172.8 L211.5,173.4 L212.0,174.0 L212.5,174.6 L213.0,175.1 L213.5,175.6 L214.0,176.0 L214.5,176.3 L215.0,176.6 L215.5,176.8 L216.0,177.0 L216.5,177.0 L217.0,177.0 L217.5,176.8 L218.0,176.6 L218.5,176.3 L219.0,175.9 L219.5,175.5 L220.0,175.0 L220.5,174.4 L221.0,173.8 L221.5,173.1 L222.0,172.3 L222.5,171.5 L223.0,170.5 L223.5,169.5 L224.0,168.3 L224.5,167.0 L225.0,165.6 L225.5,164.2 L226.0,162.6 L226.5,161.0 L227.0,159.3 L227.5,157.6 L228.0,155.9 L228.5,154.1 L229.0,152.3 L229.5,150.5 L230.0,148.6 L230.5,146.5 L231.0,144.4 L231.5,142.0 L232.0,139.4 L232.5,136.6 L233.0,133.6 L233.5,130.4 L234.0,127.2 L234.5,123.8 L235.0,120.4 L235.5,117.0 L236.0,113.6 L236.5,110.3 L237.0,106.9 L237.5,103.6 L238.0,100.2 L238.5,96.8 L239.0,93.3 L239.5,89.7 L240.0,86.0 L240.5,82.2 L241.0,78.4 L241.5,74.6 L242.0,70.9 L242.5,67.3 L243.0,64.1 L243.5,61.1 L244.0,58.4 L244.5,55.8 L245.0,53.5 L245.5,51.3 L246.0,49.3 L246.5,47.4 L247.0,45.8 L247.5,44.4 L248.0,43.5 L248.5,43.0 L249.0,43.1 L249.5,43.7 L250.0,44.7 L250.5,46.1 L251.0,47.6 L251.5,49.3 L252.0,51.0 L252.5,52.6 L253.0,54.2 L253.5,55.7 L254.0,57.1 L254.5,58.6 L255.0,60.0 L255.5,61.4 L256.0,62.9 L256.5,64.3 L257.0,65.7 L257.5,67.1 L258.0,68.5 L258.5,69.8 L259.0,71.1 L259.5,72.4 L260.0,73.5 L260.5,74.6 L261.0,75.6 L261.5,76.5 L262.0,77.3 L262.5,78.0 L263.0,78.6 L263.5,79.1 L264.0,79.5 L264.5,79.9 L265.0,80.2 L265.5,80.5 L266.0,80.8 L266.5,81.0 L267.0,81.3 L267.5,81.5 L268.0,81.8 L268.5,82.1 L269.0,82.5 L269.5,82.9 L270.0,83.4 L270.5,84.0 L271.0,84.6 L271.5,85.2 L272.0,85.8 L272.5,86.4 L273.0,87.0 L273.5,87.6 L274.0,88.1 L274.5,88.6 L275.0,89.0 L275.5,89.3 L276.0,89.6 L276.5,89.8 L277.0,89.9 L277.5,90.0 L278.0,90.0 L278.5,89.9 L279.0,89.8 L279.5,89.7 L280.0,89.5 L280.5,89.3 L281.0,89.1 L281.5,88.9 L282.0,88.7 L282.5,88.6 L283.0,88.5 L283.5,88.5 L284.0,88.6 L284.5,88.7 L285.0,88.9 L285.5,89.2 L286.0,89.5 L286.5,89.9 L287.0,90.3 L287.5,90.8 L288.0,91.3 L288.5,91.9 L289.0,92.6 L289.5,93.3 L290.0,94.0 L290.5,94.8 L291.0,95.7 L291.5,96.5 L292.0,97.5 L292.5,98.5 L293.0,99.5 L293.5,100.6 L294.0,101.7 L294.5,102.7 L295.0,103.8 L295.5,104.8 L296.0,105.8 L296.5,106.7 L297.0,107.6 L297.5,108.4 L298.0,109.0 L298.5,109.6 L299.0,110.0 L299.5,110.3 L300.0,110.5 L300.5,110.5 L301.0,110.3 L301.5,110.0 L302.0,109.6 L302.5,109.1 L303.0,108.4 L303.5,107.7 L304.0,106.9 L304.5,106.0 L305.0,105.0 L305.5,104.0 L306.0,103.0 L306.5,102.0 L307.0,100.9 L307.5,99.9 L308.0,98.8 L308.5,97.8 L309.0,96.8 L309.5,95.9 L310.0,95.0 L310.5,94.1 L311.0,93.3 L311.5,92.5 L312.0,91.7 L312.5,91.0 L313.0,90.4 L313.5,89.7 L314.0,89.1 L314.5,88.6 L315.0,88.1 L315.5,87.6 L316.0,87.2 L316.5,86.8 L317.0,86.5 L317.5,86.2 L318.0,85.9 L318.5,85.8 L319.0,85.6 L319.5,85.5 L320.0,85.5 L320.5,85.5 L321.0,85.6 L321.5,85.7 L322.0,85.8 L322.5,86.0" stroke="#7B68EE" stroke-width="1.55" fill="none" stroke-linejoin="round" stroke-dasharray="2.7 1.6 0.7 1.4"/>
<path d="M65.0,297.4 L65.5,297.4 L66.0,297.4 L66.5,297.3 L67.0,297.3 L67.5,297.3 L68.0,297.3 L68.5,297.2 L69.0,297.2 L69.5,297.2 L70.0,297.2 L70.5,297.2 L71.0,297.1 L71.5,297.1 L72.0,297.1 L72.5,297.1 L73.0,297.0 L73.5,297.0 L74.0,297.0 L74.5,297.0 L75.0,296.9 L75.5,296.9 L76.0,296.9 L76.5,296.9 L77.0,296.9 L77.5,296.8 L78.0,296.8 L78.5,296.8 L79.0,296.8 L79.5,296.7 L80.0,296.7 L80.5,296.7 L81.0,296.6 L81.5,296.6 L82.0,296.6 L82.5,296.6 L83.0,296.5 L83.5,296.5 L84.0,296.5 L84.5,296.5 L85.0,296.4 L85.5,296.4 L86.0,296.4 L86.5,296.4 L87.0,296.3 L87.5,296.3 L88.0,296.3 L88.5,296.3 L89.0,296.2 L89.5,296.2 L90.0,296.2 L90.5,296.2 L91.0,296.1 L91.5,296.1 L92.0,296.1 L92.5,296.1 L93.0,296.1 L93.5,296.0 L94.0,296.0 L94.5,296.0 L95.0,296.0 L95.5,296.0 L96.0,296.0 L96.5,296.0 L97.0,295.9 L97.5,295.9 L98.0,295.9 L98.5,295.9 L99.0,295.9 L99.5,295.9 L100.0,295.9 L100.5,295.9 L101.0,295.9 L101.5,295.8 L102.0,295.8 L102.5,295.8 L103.0,295.8 L103.5,295.8 L104.0,295.8 L104.5,295.8 L105.0,295.7 L105.5,295.7 L106.0,295.7 L106.5,295.7 L107.0,295.7 L107.5,295.6 L108.0,295.6 L108.5,295.6 L109.0,295.6 L109.5,295.5 L110.0,295.5 L110.5,295.5 L111.0,295.4 L111.5,295.4 L112.0,295.3 L112.5,295.3 L113.0,295.2 L113.5,295.2 L114.0,295.1 L114.5,295.1 L115.0,295.0 L115.5,294.9 L116.0,294.9 L116.5,294.8 L117.0,294.7 L117.5,294.6 L118.0,294.5 L118.5,294.5 L119.0,294.4 L119.5,294.2 L120.0,294.1 L120.5,294.0 L121.0,293.9 L121.5,293.8 L122.0,293.6 L122.5,293.5 L123.0,293.3 L123.5,293.2 L124.0,293.0 L124.5,292.8 L125.0,292.6 L125.5,292.4 L126.0,292.2 L126.5,291.9 L127.0,291.6 L127.5,291.2 L128.0,290.9 L128.5,290.5 L129.0,290.1 L129.5,289.6 L130.0,289.2 L130.5,288.7 L131.0,288.3 L131.5,287.8 L132.0,287.3 L132.5,286.8 L133.0,286.4 L133.5,285.9 L134.0,285.4 L134.5,284.9 L135.0,284.4 L135.5,283.9 L136.0,283.4 L136.5,282.8 L137.0,282.3 L137.5,281.7 L138.0,281.1 L138.5,280.4 L139.0,279.8 L139.5,279.1 L140.0,278.4 L140.5,277.6 L141.0,276.9 L141.5,276.1 L142.0,275.3 L142.5,274.5 L143.0,273.7 L143.5,272.9 L144.0,272.0 L144.5,271.2 L145.0,270.4 L145.5,269.6 L146.0,268.8 L146.5,268.0 L147.0,267.2 L147.5,266.4 L148.0,265.5 L148.5,264.4 L149.0,263.3 L149.5,262.0 L150.0,260.6 L150.5,259.2 L151.0,257.8 L151.5,256.4 L152.0,255.0 L152.5,253.7 L153.0,252.4 L153.5,251.1 L154.0,249.8 L154.5,248.5 L155.0,247.2 L155.5,245.8 L156.0,244.4 L156.5,243.0 L157.0,241.5 L157.5,240.0 L158.0,238.5 L158.5,237.0 L159.0,235.5 L159.5,234.0 L160.0,232.6 L160.5,231.3 L161.0,230.0 L161.5,228.7 L162.0,227.4 L162.5,226.1 L163.0,224.8 L163.5,223.4 L164.0,221.9 L164.5,220.3 L165.0,218.6 L165.5,216.9 L166.0,215.1 L166.5,213.5 L167.0,212.0 L167.5,210.7 L168.0,209.5 L168.5,208.5 L169.0,207.6 L169.5,206.8 L170.0,206.1 L170.5,205.5 L171.0,205.0 L171.5,204.5 L172.0,204.1 L172.5,203.7 L173.0,203.5 L173.5,203.3 L174.0,203.2 L174.5,203.2 L175.0,203.2 L175.5,203.4 L176.0,203.6 L176.5,203.8 L177.0,204.2 L177.5,204.5 L178.0,205.0 L178.5,205.5 L179.0,206.0 L179.5,206.6 L180.0,207.2 L180.5,207.8 L181.0,208.4 L181.5,209.0 L182.0,209.6 L182.5,210.1 L183.0,210.6 L183.5,211.0 L184.0,211.4 L184.5,211.6 L185.0,211.8 L185.5,211.8 L186.0,211.8 L186.5,211.6 L187.0,211.2 L187.5,210.8 L188.0,210.3 L188.5,209.6 L189.0,208.9 L189.5,208.0 L190.0,207.0 L190.5,205.9 L191.0,204.7 L191.5,203.4 L192.0,202.0 L192.5,200.5 L193.0,199.0 L193.5,197.3 L194.0,195.6 L194.5,193.8 L195.0,192.0 L195.5,190.1 L196.0,188.2 L196.5,186.3 L197.0,184.3 L197.5,182.4 L198.0,180.5 L198.5,178.7 L199.0,177.0 L199.5,175.4 L200.0,173.8 L200.5,172.5 L201.0,171.2 L201.5,170.2 L202.0,169.3 L202.5,168.6 L203.0,168.1 L203.5,167.9 L204.0,167.8 L204.5,168.0 L205.0,168.2 L205.5,168.6 L206.0,169.2 L206.5,169.8 L207.0,170.6 L207.5,171.4 L208.0,172.2 L208.5,173.1 L209.0,174.0 L209.5,174.9 L210.0,175.8 L210.5,176.7 L211.0,177.5 L211.5,178.3 L212.0,179.1 L212.5,179.8 L213.0,180.4 L213.5,180.9 L214.0,181.3 L214.5,181.6 L215.0,181.8 L215.5,181.8 L216.0,181.7 L216.5,181.5 L217.0,181.2 L217.5,180.8 L218.0,180.4 L218.5,179.9 L219.0,179.5 L219.5,179.1 L220.0,178.7 L220.5,178.2 L221.0,177.8 L221.5,177.3 L222.0,176.7 L222.5,176.1 L223.0,175.3 L223.5,174.5 L224.0,173.5 L224.5,172.4 L225.0,171.1 L225.5,169.8 L226.0,168.2 L226.5,166.6 L227.0,164.7 L227.5,162.8 L228.0,160.7 L228.5,158.4 L229.0,156.0 L229.5,153.5 L230.0,150.8 L230.5,148.0 L231.0,145.0 L231.5,141.9 L232.0,138.8 L232.5,135.5 L233.0,132.2 L233.5,128.8 L234.0,125.3 L234.5,121.9 L235.0,118.4 L235.5,115.0 L236.0,111.6 L236.5,108.2 L237.0,104.8 L237.5,101.4 L238.0,97.9 L238.5,94.4 L239.0,90.9 L239.5,87.2 L240.0,83.5 L240.5,79.7 L241.0,75.9 L241.5,72.2 L242.0,68.7 L242.5,65.4 L243.0,62.3 L243.5,59.6 L244.0,57.0 L244.5,54.6 L245.0,52.2 L245.5,50.0 L246.0,47.8 L246.5,45.7 L247.0,43.9 L247.5,42.4 L248.0,41.3 L248.5,40.7 L249.0,40.8 L249.5,41.5 L250.0,42.6 L250.5,44.1 L251.0,45.7 L251.5,47.5 L252.0,49.2 L252.5,50.7 L253.0,52.2 L253.5,53.6 L254.0,55.0 L254.5,56.4 L255.0,57.9 L255.5,59.4 L256.0,60.9 L256.5,62.5 L257.0,64.0 L257.5,65.6 L258.0,67.1 L258.5,68.6 L259.0,70.1 L259.5,71.4 L260.0,72.7 L260.5,73.8 L261.0,74.8 L261.5,75.6 L262.0,76.3 L262.5,76.8 L263.0,77.2 L263.5,77.6 L264.0,77.8 L264.5,78.1 L265.0,78.3 L265.5,78.5 L266.0,78.7 L266.5,78.9 L267.0,79.2 L267.5,79.5 L268.0,79.8 L268.5,80.2 L269.0,80.6 L269.5,81.1 L270.0,81.6 L270.5,82.3 L271.0,82.9 L271.5,83.6 L272.0,84.3 L272.5,85.1 L273.0,85.8 L273.5,86.6 L274.0,87.4 L274.5,88.1 L275.0,88.8 L275.5,89.4 L276.0,90.0 L276.5,90.5 L277.0,90.9 L277.5,91.3 L278.0,91.5 L278.5,91.6 L279.0,91.6 L279.5,91.5 L280.0,91.3 L280.5,91.1 L281.0,90.8 L281.5,90.6 L282.0,90.3 L282.5,90.1 L283.0,89.9 L283.5,89.8 L284.0,89.8 L284.5,89.9 L285.0,90.0 L285.5,90.2 L286.0,90.5 L286.5,90.8 L287.0,91.2 L287.5,91.7 L288.0,92.2 L288.5,92.8 L289.0,93.4 L289.5,94.0 L290.0,94.7 L290.5,95.5 L291.0,96.3 L291.5,97.1 L292.0,98.0 L292.5,98.9 L293.0,99.9 L293.5,100.8 L294.0,101.8 L294.5,102.8 L295.0,103.7 L295.5,104.7 L296.0,105.5 L296.5,106.3 L297.0,107.1 L297.5,107.7 L298.0,108.3 L298.5,108.8 L299.0,109.1 L299.5,109.3 L300.0,109.4 L300.5,109.3 L301.0,109.1 L301.5,108.8 L302.0,108.3 L302.5,107.8 L303.0,107.1 L303.5,106.4 L304.0,105.6 L304.5,104.7 L305.0,103.8 L305.5,102.8 L306.0,101.8 L306.5,100.8 L307.0,99.8 L307.5,98.7 L308.0,97.7 L308.5,96.7 L309.0,95.7 L309.5,94.8 L310.0,93.8 L310.5,92.9 L311.0,92.1 L311.5,91.2 L312.0,90.4 L312.5,89.7 L313.0,88.9 L313.5,88.3 L314.0,87.6 L314.5,87.0 L315.0,86.4 L315.5,85.9 L316.0,85.4 L316.5,85.0 L317.0,84.6 L317.5,84.3 L318.0,84.0 L318.5,83.8 L319.0,83.6 L319.5,83.6 L320.0,83.6 L320.5,83.7 L321.0,83.8 L321.5,84.1 L322.0,84.3 L322.5,84.6" stroke="#7B68EE" stroke-width="1.55" fill="none" stroke-linejoin="round"/>
<path d="M49.80,22.40H338.40V310.60H49.80" fill="none" stroke="#333333" stroke-width="1.3"/>
<path d="M50.10,22.40V311.25" stroke="#484848" stroke-width="2.20"/>
<rect x="49.80" y="0.7" width="288.60" height="21.7" fill="#FF7E60" stroke="#333333" stroke-width="1.3"/>
<text transform="translate(194.30,17) scale(1.005,0.965)" font-size="18" text-anchor="middle" fill="#000">Rhizosphere</text>
<text x="31.20" y="17.9" font-size="20" font-weight="bold" fill="#000">a</text>
<path d="M62.90,310.60V313.90M117.47,310.60V313.90M172.05,310.60V313.90M226.62,310.60V313.90M281.20,310.60V313.90M335.77,310.60V313.90M46.20,298.10H49.80M46.20,232.60H49.80M46.20,167.10H49.80M46.20,101.60H49.80M46.20,36.10H49.80" stroke="#333333" stroke-width="1.2" fill="none"/>
<text transform="translate(62.90,326.2) scale(1,1.11)" font-size="13.3" text-anchor="middle" fill="#4D4D4D">280.0</text>
<text transform="translate(117.47,326.2) scale(1,1.11)" font-size="13.3" text-anchor="middle" fill="#4D4D4D">282.5</text>
<text transform="translate(172.05,326.2) scale(1,1.11)" font-size="13.3" text-anchor="middle" fill="#4D4D4D">285.0</text>
<text transform="translate(226.62,326.2) scale(1,1.11)" font-size="13.3" text-anchor="middle" fill="#4D4D4D">287.5</text>
<text transform="translate(281.20,326.2) scale(1,1.11)" font-size="13.3" text-anchor="middle" fill="#4D4D4D">290.0</text>
<text transform="translate(335.77,326.2) scale(1,1.11)" font-size="13.3" text-anchor="middle" fill="#4D4D4D">292.5</text>
<text transform="translate(43.50,302.80) scale(1,1.11)" font-size="13.3" text-anchor="end" fill="#4D4D4D">0.00</text>
<text transform="translate(43.50,237.30) scale(1,1.11)" font-size="13.3" text-anchor="end" fill="#4D4D4D">0.25</text>
<text transform="translate(43.50,171.80) scale(1,1.11)" font-size="13.3" text-anchor="end" fill="#4D4D4D">0.50</text>
<text transform="translate(43.50,106.30) scale(1,1.11)" font-size="13.3" text-anchor="end" fill="#4D4D4D">0.75</text>
<text transform="translate(43.50,40.80) scale(1,1.11)" font-size="13.3" text-anchor="end" fill="#4D4D4D">1.00</text>
<path d="M395.30,22.40V310.60M422.61,22.40V310.60M449.93,22.40V310.60M477.24,22.40V310.60M504.55,22.40V310.60M531.86,22.40V310.60M559.17,22.40V310.60M586.49,22.40V310.60M613.80,22.40V310.60M641.11,22.40V310.60M668.42,22.40V310.60M382.50,298.10H670.80M382.50,265.35H670.80M382.50,232.60H670.80M382.50,199.85H670.80M382.50,167.10H670.80M382.50,134.35H670.80M382.50,101.60H670.80M382.50,68.85H670.80M382.50,36.10H670.80" stroke="#EBEBEB" stroke-width="1.1" fill="none"/>
<path d="M489.60,310.20V22.40" stroke="#777" stroke-width="1" stroke-dasharray="5.12 5.11" fill="none"/><path d="M509.30,310.20V22.40" stroke="#777" stroke-width="1" stroke-dasharray="5.12 5.11" fill="none"/><path d="M535.50,310.20V22.40" stroke="#777" stroke-width="1" stroke-dasharray="5.12 5.11" fill="none"/><path d="M554.80,310.20V22.40" stroke="#777" stroke-width="1" stroke-dasharray="5.12 5.11" fill="none"/><path d="M581.20,310.20V22.40" stroke="#777" stroke-width="1" stroke-dasharray="5.12 5.11" fill="none"/><path d="M602.90,310.20V22.40" stroke="#777" stroke-width="1" stroke-dasharray="5.12 5.11" fill="none"/>
<text x="481.90" y="44.6" font-size="17.5" text-anchor="middle" fill="#000">a</text>
<text x="501.60" y="44.6" font-size="17.5" text-anchor="middle" fill="#000">b</text>
<text x="527.80" y="44.6" font-size="17.5" text-anchor="middle" fill="#000">c</text>
<text x="547.10" y="44.6" font-size="17.5" text-anchor="middle" fill="#000">d</text>
<text x="573.50" y="44.6" font-size="17.5" text-anchor="middle" fill="#000">e</text>
<text x="595.20" y="44.6" font-size="17.5" text-anchor="middle" fill="#000">f</text>
<path d="M397.0,297.4 L397.5,297.4 L398.0,297.4 L398.5,297.4 L399.0,297.3 L399.5,297.3 L400.0,297.3 L400.5,297.3 L401.0,297.3 L401.5,297.3 L402.0,297.3 L402.5,297.2 L403.0,297.2 L403.5,297.2 L404.0,297.2 L404.5,297.2 L405.0,297.2 L405.5,297.2 L406.0,297.1 L406.5,297.1 L407.0,297.1 L407.5,297.1 L408.0,297.1 L408.5,297.1 L409.0,297.0 L409.5,297.0 L410.0,297.0 L410.5,297.0 L411.0,297.0 L411.5,297.0 L412.0,296.9 L412.5,296.9 L413.0,296.9 L413.5,296.9 L414.0,296.9 L414.5,296.8 L415.0,296.8 L415.5,296.8 L416.0,296.8 L416.5,296.8 L417.0,296.7 L417.5,296.7 L418.0,296.7 L418.5,296.7 L419.0,296.6 L419.5,296.6 L420.0,296.6 L420.5,296.6 L421.0,296.5 L421.5,296.5 L422.0,296.5 L422.5,296.5 L423.0,296.4 L423.5,296.4 L424.0,296.4 L424.5,296.4 L425.0,296.3 L425.5,296.3 L426.0,296.3 L426.5,296.2 L427.0,296.2 L427.5,296.2 L428.0,296.2 L428.5,296.1 L429.0,296.1 L429.5,296.1 L430.0,296.0 L430.5,296.0 L431.0,296.0 L431.5,296.0 L432.0,295.9 L432.5,295.9 L433.0,295.9 L433.5,295.8 L434.0,295.8 L434.5,295.8 L435.0,295.8 L435.5,295.7 L436.0,295.7 L436.5,295.7 L437.0,295.7 L437.5,295.6 L438.0,295.6 L438.5,295.6 L439.0,295.5 L439.5,295.5 L440.0,295.5 L440.5,295.5 L441.0,295.5 L441.5,295.4 L442.0,295.4 L442.5,295.4 L443.0,295.4 L443.5,295.3 L444.0,295.3 L444.5,295.3 L445.0,295.3 L445.5,295.2 L446.0,295.2 L446.5,295.2 L447.0,295.1 L447.5,295.1 L448.0,295.1 L448.5,295.0 L449.0,295.0 L449.5,294.9 L450.0,294.9 L450.5,294.9 L451.0,294.8 L451.5,294.7 L452.0,294.7 L452.5,294.6 L453.0,294.5 L453.5,294.4 L454.0,294.3 L454.5,294.1 L455.0,293.9 L455.5,293.8 L456.0,293.5 L456.5,293.3 L457.0,293.0 L457.5,292.7 L458.0,292.4 L458.5,292.0 L459.0,291.6 L459.5,291.2 L460.0,290.7 L460.5,290.2 L461.0,289.7 L461.5,289.2 L462.0,288.6 L462.5,288.0 L463.0,287.4 L463.5,286.8 L464.0,286.2 L464.5,285.5 L465.0,284.9 L465.5,284.2 L466.0,283.5 L466.5,282.8 L467.0,282.1 L467.5,281.4 L468.0,280.7 L468.5,280.0 L469.0,279.3 L469.5,278.6 L470.0,277.8 L470.5,277.1 L471.0,276.4 L471.5,275.7 L472.0,275.0 L472.5,274.2 L473.0,273.5 L473.5,272.8 L474.0,272.1 L474.5,271.4 L475.0,270.6 L475.5,269.9 L476.0,269.2 L476.5,268.5 L477.0,267.8 L477.5,267.1 L478.0,266.4 L478.5,265.6 L479.0,264.9 L479.5,264.2 L480.0,263.5 L480.5,262.9 L481.0,262.2 L481.5,261.5 L482.0,260.9 L482.5,260.2 L483.0,259.6 L483.5,259.0 L484.0,258.4 L484.5,257.8 L485.0,257.2 L485.5,256.6 L486.0,255.9 L486.5,255.2 L487.0,254.4 L487.5,253.5 L488.0,252.5 L488.5,251.3 L489.0,249.9 L489.5,248.4 L490.0,246.8 L490.5,245.0 L491.0,243.2 L491.5,241.3 L492.0,239.3 L492.5,237.4 L493.0,235.5 L493.5,233.6 L494.0,231.8 L494.5,230.1 L495.0,228.4 L495.5,226.8 L496.0,225.3 L496.5,223.7 L497.0,222.2 L497.5,220.6 L498.0,219.0 L498.5,217.4 L499.0,215.8 L499.5,214.2 L500.0,212.7 L500.5,211.3 L501.0,210.0 L501.5,208.9 L502.0,207.9 L502.5,207.1 L503.0,206.5 L503.5,206.0 L504.0,205.7 L504.5,205.5 L505.0,205.5 L505.5,205.5 L506.0,205.6 L506.5,205.9 L507.0,206.2 L507.5,206.6 L508.0,207.0 L508.5,207.5 L509.0,208.0 L509.5,208.5 L510.0,209.1 L510.5,209.7 L511.0,210.3 L511.5,210.9 L512.0,211.6 L512.5,212.3 L513.0,213.0 L513.5,213.8 L514.0,214.5 L514.5,215.3 L515.0,215.9 L515.5,216.5 L516.0,216.9 L516.5,217.2 L517.0,217.2 L517.5,217.0 L518.0,216.5 L518.5,215.8 L519.0,214.9 L519.5,213.7 L520.0,212.4 L520.5,211.0 L521.0,209.5 L521.5,207.8 L522.0,206.2 L522.5,204.5 L523.0,202.7 L523.5,201.0 L524.0,199.3 L524.5,197.6 L525.0,196.0 L525.5,194.4 L526.0,192.9 L526.5,191.4 L527.0,190.0 L527.5,188.6 L528.0,187.4 L528.5,186.1 L529.0,185.0 L529.5,183.9 L530.0,182.9 L530.5,181.9 L531.0,181.0 L531.5,180.2 L532.0,179.4 L532.5,178.7 L533.0,178.1 L533.5,177.6 L534.0,177.3 L534.5,177.0 L535.0,177.0 L535.5,177.0 L536.0,177.2 L536.5,177.5 L537.0,177.9 L537.5,178.4 L538.0,178.9 L538.5,179.5 L539.0,180.1 L539.5,180.8 L540.0,181.4 L540.5,182.1 L541.0,182.8 L541.5,183.6 L542.0,184.3 L542.5,185.0 L543.0,185.7 L543.5,186.4 L544.0,187.1 L544.5,187.7 L545.0,188.3 L545.5,188.8 L546.0,189.2 L546.5,189.6 L547.0,189.8 L547.5,189.9 L548.0,190.0 L548.5,189.9 L549.0,189.8 L549.5,189.5 L550.0,189.2 L550.5,188.7 L551.0,188.2 L551.5,187.7 L552.0,187.1 L552.5,186.4 L553.0,185.8 L553.5,185.1 L554.0,184.4 L554.5,183.7 L555.0,183.0 L555.5,182.2 L556.0,181.4 L556.5,180.5 L557.0,179.6 L557.5,178.7 L558.0,177.7 L558.5,176.6 L559.0,175.5 L559.5,174.3 L560.0,172.9 L560.5,171.5 L561.0,170.0 L561.5,168.4 L562.0,166.7 L562.5,164.8 L563.0,162.7 L563.5,160.5 L564.0,158.2 L564.5,155.7 L565.0,153.0 L565.5,150.1 L566.0,147.0 L566.5,143.7 L567.0,140.2 L567.5,136.5 L568.0,132.6 L568.5,128.5 L569.0,124.2 L569.5,119.7 L570.0,115.3 L570.5,111.1 L571.0,107.2 L571.5,103.6 L572.0,100.1 L572.5,96.6 L573.0,93.0 L573.5,89.3 L574.0,85.4 L574.5,81.5 L575.0,77.7 L575.5,74.0 L576.0,70.3 L576.5,66.8 L577.0,63.5 L577.5,60.4 L578.0,57.5 L578.5,54.9 L579.0,52.5 L579.5,50.4 L580.0,48.6 L580.5,47.2 L581.0,46.1 L581.5,45.3 L582.0,45.0 L582.5,45.1 L583.0,45.5 L583.5,46.3 L584.0,47.3 L584.5,48.6 L585.0,50.0 L585.5,51.6 L586.0,53.2 L586.5,54.9 L587.0,56.6 L587.5,58.3 L588.0,60.0 L588.5,61.6 L589.0,63.0 L589.5,64.4 L590.0,65.8 L590.5,67.0 L591.0,68.2 L591.5,69.3 L592.0,70.4 L592.5,71.4 L593.0,72.3 L593.5,73.2 L594.0,74.1 L594.5,74.9 L595.0,75.6 L595.5,76.3 L596.0,76.9 L596.5,77.5 L597.0,78.1 L597.5,78.6 L598.0,79.1 L598.5,79.5 L599.0,80.0 L599.5,80.5 L600.0,80.9 L600.5,81.4 L601.0,82.0 L601.5,82.6 L602.0,83.2 L602.5,84.0 L603.0,84.7 L603.5,85.5 L604.0,86.2 L604.5,87.0 L605.0,87.6 L605.5,88.3 L606.0,88.8 L606.5,89.2 L607.0,89.6 L607.5,89.8 L608.0,89.9 L608.5,89.9 L609.0,89.9 L609.5,89.7 L610.0,89.5 L610.5,89.2 L611.0,88.8 L611.5,88.4 L612.0,87.9 L612.5,87.5 L613.0,87.0 L613.5,86.5 L614.0,86.0 L614.5,85.6 L615.0,85.2 L615.5,84.9 L616.0,84.6 L616.5,84.4 L617.0,84.3 L617.5,84.3 L618.0,84.4 L618.5,84.5 L619.0,84.7 L619.5,85.0 L620.0,85.4 L620.5,85.9 L621.0,86.4 L621.5,87.0 L622.0,87.6 L622.5,88.3 L623.0,89.0 L623.5,89.7 L624.0,90.5 L624.5,91.3 L625.0,92.1 L625.5,92.9 L626.0,93.7 L626.5,94.6 L627.0,95.4 L627.5,96.2 L628.0,97.0 L628.5,97.8 L629.0,98.5 L629.5,99.2 L630.0,99.9 L630.5,100.5 L631.0,101.1 L631.5,101.6 L632.0,102.0 L632.5,102.4 L633.0,102.6 L633.5,102.8 L634.0,102.8 L634.5,102.7 L635.0,102.6 L635.5,102.3 L636.0,101.9 L636.5,101.4 L637.0,100.9 L637.5,100.2 L638.0,99.5 L638.5,98.7 L639.0,97.9 L639.5,97.0 L640.0,96.0 L640.5,95.0 L641.0,94.0 L641.5,92.9 L642.0,91.8 L642.5,90.8 L643.0,89.7 L643.5,88.7 L644.0,87.7 L644.5,86.8 L645.0,86.0 L645.5,85.2 L646.0,84.6 L646.5,84.0 L647.0,83.4 L647.5,82.9 L648.0,82.5 L648.5,82.1 L649.0,81.7 L649.5,81.3 L650.0,81.0 L650.5,80.7 L651.0,80.4 L651.5,80.1 L652.0,79.9 L652.5,79.7 L653.0,79.5 L653.5,79.4 L654.0,79.4 L654.5,79.3 L655.0,79.4 L655.5,79.4 L656.0,79.5 L656.3,79.5" stroke="#555555" stroke-width="1.55" fill="none" stroke-linejoin="round" stroke-dasharray="2.7 1.6 0.7 1.4"/>
<path d="M397.0,297.4 L397.5,297.4 L398.0,297.4 L398.5,297.4 L399.0,297.3 L399.5,297.3 L400.0,297.3 L400.5,297.3 L401.0,297.3 L401.5,297.3 L402.0,297.3 L402.5,297.2 L403.0,297.2 L403.5,297.2 L404.0,297.2 L404.5,297.2 L405.0,297.2 L405.5,297.2 L406.0,297.1 L406.5,297.1 L407.0,297.1 L407.5,297.1 L408.0,297.1 L408.5,297.1 L409.0,297.0 L409.5,297.0 L410.0,297.0 L410.5,297.0 L411.0,297.0 L411.5,297.0 L412.0,296.9 L412.5,296.9 L413.0,296.9 L413.5,296.9 L414.0,296.9 L414.5,296.8 L415.0,296.8 L415.5,296.8 L416.0,296.8 L416.5,296.8 L417.0,296.7 L417.5,296.7 L418.0,296.7 L418.5,296.7 L419.0,296.6 L419.5,296.6 L420.0,296.6 L420.5,296.6 L421.0,296.5 L421.5,296.5 L422.0,296.5 L422.5,296.5 L423.0,296.4 L423.5,296.4 L424.0,296.4 L424.5,296.4 L425.0,296.3 L425.5,296.3 L426.0,296.3 L426.5,296.2 L427.0,296.2 L427.5,296.2 L428.0,296.2 L428.5,296.1 L429.0,296.1 L429.5,296.1 L430.0,296.0 L430.5,296.0 L431.0,296.0 L431.5,295.9 L432.0,295.9 L432.5,295.9 L433.0,295.9 L433.5,295.8 L434.0,295.8 L434.5,295.8 L435.0,295.8 L435.5,295.7 L436.0,295.7 L436.5,295.7 L437.0,295.6 L437.5,295.6 L438.0,295.6 L438.5,295.6 L439.0,295.5 L439.5,295.5 L440.0,295.5 L440.5,295.5 L441.0,295.5 L441.5,295.4 L442.0,295.4 L442.5,295.4 L443.0,295.4 L443.5,295.3 L444.0,295.3 L444.5,295.3 L445.0,295.3 L445.5,295.2 L446.0,295.2 L446.5,295.2 L447.0,295.2 L447.5,295.1 L448.0,295.1 L448.5,295.0 L449.0,295.0 L449.5,294.9 L450.0,294.9 L450.5,294.8 L451.0,294.8 L451.5,294.7 L452.0,294.6 L452.5,294.6 L453.0,294.5 L453.5,294.3 L454.0,294.2 L454.5,294.1 L455.0,293.9 L455.5,293.7 L456.0,293.5 L456.5,293.2 L457.0,292.9 L457.5,292.6 L458.0,292.3 L458.5,291.9 L459.0,291.5 L459.5,291.1 L460.0,290.6 L460.5,290.1 L461.0,289.6 L461.5,289.0 L462.0,288.5 L462.5,287.9 L463.0,287.3 L463.5,286.6 L464.0,286.0 L464.5,285.3 L465.0,284.7 L465.5,284.0 L466.0,283.3 L466.5,282.6 L467.0,281.9 L467.5,281.2 L468.0,280.5 L468.5,279.8 L469.0,279.0 L469.5,278.3 L470.0,277.6 L470.5,276.8 L471.0,276.1 L471.5,275.4 L472.0,274.7 L472.5,273.9 L473.0,273.2 L473.5,272.5 L474.0,271.8 L474.5,271.0 L475.0,270.3 L475.5,269.6 L476.0,268.9 L476.5,268.2 L477.0,267.5 L477.5,266.8 L478.0,266.1 L478.5,265.4 L479.0,264.7 L479.5,264.0 L480.0,263.3 L480.5,262.6 L481.0,262.0 L481.5,261.3 L482.0,260.7 L482.5,260.0 L483.0,259.4 L483.5,258.8 L484.0,258.2 L484.5,257.6 L485.0,257.0 L485.5,256.3 L486.0,255.7 L486.5,254.9 L487.0,254.1 L487.5,253.1 L488.0,252.0 L488.5,250.8 L489.0,249.4 L489.5,247.9 L490.0,246.2 L490.5,244.4 L491.0,242.5 L491.5,240.6 L492.0,238.6 L492.5,236.7 L493.0,234.8 L493.5,233.0 L494.0,231.3 L494.5,229.7 L495.0,228.2 L495.5,226.8 L496.0,225.5 L496.5,224.1 L497.0,222.8 L497.5,221.5 L498.0,220.2 L498.5,218.9 L499.0,217.5 L499.5,216.3 L500.0,215.1 L500.5,214.0 L501.0,213.0 L501.5,212.2 L502.0,211.5 L502.5,210.9 L503.0,210.5 L503.5,210.1 L504.0,209.7 L504.5,209.5 L505.0,209.3 L505.5,209.3 L506.0,209.4 L506.5,209.5 L507.0,209.8 L507.5,210.2 L508.0,210.6 L508.5,211.0 L509.0,211.5 L509.5,212.0 L510.0,212.6 L510.5,213.1 L511.0,213.7 L511.5,214.4 L512.0,215.0 L512.5,215.7 L513.0,216.5 L513.5,217.3 L514.0,218.1 L514.5,218.8 L515.0,219.5 L515.5,220.0 L516.0,220.4 L516.5,220.6 L517.0,220.6 L517.5,220.2 L518.0,219.7 L518.5,218.9 L519.0,217.9 L519.5,216.7 L520.0,215.4 L520.5,214.0 L521.0,212.5 L521.5,210.9 L522.0,209.2 L522.5,207.5 L523.0,205.7 L523.5,204.0 L524.0,202.3 L524.5,200.6 L525.0,198.9 L525.5,197.2 L526.0,195.6 L526.5,194.0 L527.0,192.5 L527.5,191.0 L528.0,189.7 L528.5,188.3 L529.0,187.1 L529.5,185.9 L530.0,184.9 L530.5,183.9 L531.0,183.0 L531.5,182.2 L532.0,181.6 L532.5,181.0 L533.0,180.6 L533.5,180.2 L534.0,180.0 L534.5,179.9 L535.0,179.9 L535.5,180.1 L536.0,180.3 L536.5,180.6 L537.0,181.0 L537.5,181.4 L538.0,182.0 L538.5,182.5 L539.0,183.1 L539.5,183.7 L540.0,184.3 L540.5,184.9 L541.0,185.6 L541.5,186.2 L542.0,186.9 L542.5,187.5 L543.0,188.1 L543.5,188.7 L544.0,189.3 L544.5,189.8 L545.0,190.3 L545.5,190.7 L546.0,191.0 L546.5,191.2 L547.0,191.4 L547.5,191.5 L548.0,191.5 L548.5,191.3 L549.0,191.1 L549.5,190.8 L550.0,190.4 L550.5,189.8 L551.0,189.2 L551.5,188.6 L552.0,187.9 L552.5,187.1 L553.0,186.4 L553.5,185.7 L554.0,184.9 L554.5,184.2 L555.0,183.5 L555.5,182.8 L556.0,182.0 L556.5,181.2 L557.0,180.3 L557.5,179.4 L558.0,178.5 L558.5,177.5 L559.0,176.4 L559.5,175.2 L560.0,173.9 L560.5,172.5 L561.0,171.0 L561.5,169.4 L562.0,167.7 L562.5,165.9 L563.0,164.0 L563.5,161.9 L564.0,159.6 L564.5,157.2 L565.0,154.6 L565.5,151.7 L566.0,148.6 L566.5,145.2 L567.0,141.4 L567.5,137.5 L568.0,133.3 L568.5,129.0 L569.0,124.6 L569.5,120.1 L570.0,115.8 L570.5,111.6 L571.0,107.7 L571.5,104.1 L572.0,100.6 L572.5,97.1 L573.0,93.5 L573.5,89.8 L574.0,85.9 L574.5,82.0 L575.0,78.2 L575.5,74.5 L576.0,70.8 L576.5,67.3 L577.0,64.0 L577.5,60.9 L578.0,58.0 L578.5,55.4 L579.0,53.0 L579.5,50.9 L580.0,49.1 L580.5,47.8 L581.0,46.9 L581.5,46.5 L582.0,46.7 L582.5,47.3 L583.0,48.4 L583.5,49.8 L584.0,51.5 L584.5,53.3 L585.0,55.3 L585.5,57.4 L586.0,59.5 L586.5,61.7 L587.0,63.9 L587.5,66.0 L588.0,68.1 L588.5,70.1 L589.0,72.1 L589.5,74.0 L590.0,75.8 L590.5,77.5 L591.0,79.0 L591.5,80.4 L592.0,81.7 L592.5,82.7 L593.0,83.5 L593.5,84.2 L594.0,84.6 L594.5,85.0 L595.0,85.2 L595.5,85.3 L596.0,85.4 L596.5,85.4 L597.0,85.4 L597.5,85.5 L598.0,85.5 L598.5,85.7 L599.0,85.9 L599.5,86.2 L600.0,86.6 L600.5,87.0 L601.0,87.5 L601.5,88.0 L602.0,88.5 L602.5,89.1 L603.0,89.8 L603.5,90.4 L604.0,91.0 L604.5,91.7 L605.0,92.4 L605.5,93.0 L606.0,93.7 L606.5,94.3 L607.0,94.9 L607.5,95.4 L608.0,95.9 L608.5,96.4 L609.0,96.8 L609.5,97.1 L610.0,97.4 L610.5,97.6 L611.0,97.8 L611.5,97.8 L612.0,97.8 L612.5,97.7 L613.0,97.5 L613.5,97.2 L614.0,96.9 L614.5,96.5 L615.0,96.1 L615.5,95.7 L616.0,95.3 L616.5,94.9 L617.0,94.7 L617.5,94.5 L618.0,94.4 L618.5,94.5 L619.0,94.6 L619.5,94.8 L620.0,95.2 L620.5,95.5 L621.0,96.0 L621.5,96.5 L622.0,97.0 L622.5,97.6 L623.0,98.2 L623.5,98.8 L624.0,99.5 L624.5,100.2 L625.0,100.9 L625.5,101.6 L626.0,102.4 L626.5,103.2 L627.0,104.0 L627.5,104.8 L628.0,105.7 L628.5,106.5 L629.0,107.3 L629.5,108.1 L630.0,108.9 L630.5,109.6 L631.0,110.2 L631.5,110.8 L632.0,111.2 L632.5,111.6 L633.0,111.9 L633.5,112.1 L634.0,112.1 L634.5,112.1 L635.0,111.9 L635.5,111.6 L636.0,111.2 L636.5,110.7 L637.0,110.1 L637.5,109.5 L638.0,108.7 L638.5,107.9 L639.0,107.0 L639.5,106.0 L640.0,105.0 L640.5,103.9 L641.0,102.8 L641.5,101.7 L642.0,100.5 L642.5,99.4 L643.0,98.2 L643.5,97.1 L644.0,96.0 L644.5,95.0 L645.0,94.0 L645.5,93.1 L646.0,92.2 L646.5,91.4 L647.0,90.7 L647.5,90.1 L648.0,89.4 L648.5,88.9 L649.0,88.4 L649.5,87.9 L650.0,87.5 L650.5,87.1 L651.0,86.8 L651.5,86.5 L652.0,86.3 L652.5,86.1 L653.0,86.0 L653.5,85.9 L654.0,85.9 L654.5,85.9 L655.0,86.0 L655.5,86.1 L656.0,86.1 L656.3,86.2" stroke="#555555" stroke-width="1.55" fill="none" stroke-linejoin="round"/>
<path d="M397.0,297.4 L397.5,297.4 L398.0,297.4 L398.5,297.3 L399.0,297.3 L399.5,297.3 L400.0,297.3 L400.5,297.3 L401.0,297.3 L401.5,297.2 L402.0,297.2 L402.5,297.2 L403.0,297.2 L403.5,297.2 L404.0,297.2 L404.5,297.1 L405.0,297.1 L405.5,297.1 L406.0,297.1 L406.5,297.1 L407.0,297.1 L407.5,297.0 L408.0,297.0 L408.5,297.0 L409.0,297.0 L409.5,297.0 L410.0,296.9 L410.5,296.9 L411.0,296.9 L411.5,296.9 L412.0,296.9 L412.5,296.9 L413.0,296.8 L413.5,296.8 L414.0,296.8 L414.5,296.8 L415.0,296.8 L415.5,296.8 L416.0,296.7 L416.5,296.7 L417.0,296.7 L417.5,296.7 L418.0,296.7 L418.5,296.7 L419.0,296.6 L419.5,296.6 L420.0,296.6 L420.5,296.6 L421.0,296.6 L421.5,296.5 L422.0,296.5 L422.5,296.5 L423.0,296.5 L423.5,296.5 L424.0,296.5 L424.5,296.4 L425.0,296.4 L425.5,296.4 L426.0,296.4 L426.5,296.4 L427.0,296.3 L427.5,296.3 L428.0,296.3 L428.5,296.3 L429.0,296.2 L429.5,296.2 L430.0,296.2 L430.5,296.2 L431.0,296.1 L431.5,296.1 L432.0,296.1 L432.5,296.1 L433.0,296.0 L433.5,296.0 L434.0,296.0 L434.5,295.9 L435.0,295.9 L435.5,295.9 L436.0,295.8 L436.5,295.8 L437.0,295.8 L437.5,295.7 L438.0,295.7 L438.5,295.6 L439.0,295.6 L439.5,295.5 L440.0,295.5 L440.5,295.5 L441.0,295.4 L441.5,295.4 L442.0,295.3 L442.5,295.3 L443.0,295.2 L443.5,295.1 L444.0,295.1 L444.5,295.0 L445.0,295.0 L445.5,295.0 L446.0,294.9 L446.5,294.9 L447.0,294.8 L447.5,294.8 L448.0,294.7 L448.5,294.7 L449.0,294.7 L449.5,294.6 L450.0,294.6 L450.5,294.6 L451.0,294.5 L451.5,294.5 L452.0,294.5 L452.5,294.4 L453.0,294.4 L453.5,294.3 L454.0,294.2 L454.5,294.1 L455.0,294.0 L455.5,293.8 L456.0,293.6 L456.5,293.4 L457.0,293.1 L457.5,292.8 L458.0,292.4 L458.5,292.0 L459.0,291.5 L459.5,291.0 L460.0,290.5 L460.5,289.9 L461.0,289.3 L461.5,288.7 L462.0,288.0 L462.5,287.3 L463.0,286.6 L463.5,285.9 L464.0,285.2 L464.5,284.5 L465.0,283.7 L465.5,283.0 L466.0,282.2 L466.5,281.5 L467.0,280.7 L467.5,280.0 L468.0,279.3 L468.5,278.6 L469.0,278.0 L469.5,277.3 L470.0,276.8 L470.5,276.2 L471.0,275.7 L471.5,275.2 L472.0,274.7 L472.5,274.3 L473.0,273.9 L473.5,273.5 L474.0,273.1 L474.5,272.7 L475.0,272.3 L475.5,271.9 L476.0,271.5 L476.5,271.0 L477.0,270.6 L477.5,270.1 L478.0,269.6 L478.5,269.1 L479.0,268.5 L479.5,267.9 L480.0,267.3 L480.5,266.6 L481.0,266.0 L481.5,265.2 L482.0,264.5 L482.5,263.7 L483.0,262.9 L483.5,262.1 L484.0,261.2 L484.5,260.2 L485.0,259.2 L485.5,258.1 L486.0,257.0 L486.5,255.7 L487.0,254.2 L487.5,252.6 L488.0,250.9 L488.5,249.1 L489.0,247.2 L489.5,245.2 L490.0,243.3 L490.5,241.3 L491.0,239.3 L491.5,237.4 L492.0,235.6 L492.5,234.0 L493.0,232.3 L493.5,230.8 L494.0,229.4 L494.5,227.9 L495.0,226.6 L495.5,225.2 L496.0,223.9 L496.5,222.5 L497.0,221.1 L497.5,219.7 L498.0,218.3 L498.5,216.8 L499.0,215.3 L499.5,213.8 L500.0,212.3 L500.5,210.8 L501.0,209.4 L501.5,208.0 L502.0,206.7 L502.5,205.5 L503.0,204.5 L503.5,203.6 L504.0,203.0 L504.5,202.6 L505.0,202.5 L505.5,202.6 L506.0,203.1 L506.5,203.7 L507.0,204.5 L507.5,205.4 L508.0,206.5 L508.5,207.6 L509.0,208.9 L509.5,210.1 L510.0,211.4 L510.5,212.7 L511.0,213.9 L511.5,215.2 L512.0,216.4 L512.5,217.6 L513.0,218.7 L513.5,219.6 L514.0,220.5 L514.5,221.2 L515.0,221.8 L515.5,222.1 L516.0,222.3 L516.5,222.3 L517.0,222.0 L517.5,221.4 L518.0,220.6 L518.5,219.5 L519.0,218.2 L519.5,216.8 L520.0,215.3 L520.5,213.6 L521.0,212.0 L521.5,210.4 L522.0,208.8 L522.5,207.2 L523.0,205.7 L523.5,204.2 L524.0,202.8 L524.5,201.5 L525.0,200.2 L525.5,199.1 L526.0,198.1 L526.5,197.1 L527.0,196.2 L527.5,195.3 L528.0,194.4 L528.5,193.5 L529.0,192.6 L529.5,191.7 L530.0,190.8 L530.5,189.9 L531.0,188.9 L531.5,188.0 L532.0,187.1 L532.5,186.2 L533.0,185.4 L533.5,184.6 L534.0,183.8 L534.5,183.1 L535.0,182.4 L535.5,181.7 L536.0,181.1 L536.5,180.5 L537.0,179.9 L537.5,179.3 L538.0,178.7 L538.5,178.1 L539.0,177.5 L539.5,176.9 L540.0,176.2 L540.5,175.5 L541.0,174.7 L541.5,173.9 L542.0,173.1 L542.5,172.3 L543.0,171.5 L543.5,170.7 L544.0,170.0 L544.5,169.3 L545.0,168.7 L545.5,168.2 L546.0,167.6 L546.5,167.1 L547.0,166.6 L547.5,166.0 L548.0,165.3 L548.5,164.6 L549.0,163.9 L549.5,163.1 L550.0,162.2 L550.5,161.3 L551.0,160.4 L551.5,159.5 L552.0,158.6 L552.5,157.6 L553.0,156.7 L553.5,155.7 L554.0,154.8 L554.5,153.9 L555.0,153.0 L555.5,152.1 L556.0,151.2 L556.5,150.4 L557.0,149.5 L557.5,148.6 L558.0,147.6 L558.5,146.7 L559.0,145.6 L559.5,144.5 L560.0,143.4 L560.5,142.1 L561.0,140.7 L561.5,139.2 L562.0,137.6 L562.5,135.8 L563.0,133.8 L563.5,131.7 L564.0,129.6 L564.5,127.3 L565.0,125.1 L565.5,122.8 L566.0,120.6 L566.5,118.4 L567.0,116.3 L567.5,114.3 L568.0,112.4 L568.5,110.4 L569.0,108.5 L569.5,106.6 L570.0,104.6 L570.5,102.5 L571.0,100.3 L571.5,97.6 L572.0,94.3 L572.5,90.3 L573.0,85.7 L573.5,80.9 L574.0,76.2 L574.5,72.0 L575.0,68.2 L575.5,64.9 L576.0,62.0 L576.5,59.4 L577.0,57.0 L577.5,54.9 L578.0,52.9 L578.5,51.0 L579.0,49.2 L579.5,47.5 L580.0,46.0 L580.5,44.7 L581.0,43.7 L581.5,42.9 L582.0,42.6 L582.5,42.7 L583.0,43.3 L583.5,44.2 L584.0,45.6 L584.5,47.2 L585.0,49.2 L585.5,51.3 L586.0,53.6 L586.5,56.0 L587.0,58.3 L587.5,60.7 L588.0,62.9 L588.5,65.0 L589.0,66.8 L589.5,68.5 L590.0,69.9 L590.5,71.2 L591.0,72.3 L591.5,73.2 L592.0,74.1 L592.5,74.8 L593.0,75.4 L593.5,76.0 L594.0,76.5 L594.5,77.0 L595.0,77.5 L595.5,77.9 L596.0,78.3 L596.5,78.8 L597.0,79.2 L597.5,79.7 L598.0,80.2 L598.5,80.8 L599.0,81.3 L599.5,81.9 L600.0,82.6 L600.5,83.2 L601.0,83.8 L601.5,84.5 L602.0,85.1 L602.5,85.7 L603.0,86.3 L603.5,86.9 L604.0,87.5 L604.5,88.1 L605.0,88.6 L605.5,89.0 L606.0,89.5 L606.5,89.8 L607.0,90.1 L607.5,90.3 L608.0,90.4 L608.5,90.4 L609.0,90.4 L609.5,90.2 L610.0,90.0 L610.5,89.7 L611.0,89.3 L611.5,88.8 L612.0,88.2 L612.5,87.5 L613.0,86.7 L613.5,85.8 L614.0,84.9 L614.5,83.9 L615.0,82.9 L615.5,81.9 L616.0,80.9 L616.5,80.1 L617.0,79.3 L617.5,78.7 L618.0,78.2 L618.5,77.9 L619.0,77.8 L619.5,77.9 L620.0,78.2 L620.5,78.7 L621.0,79.3 L621.5,80.0 L622.0,80.7 L622.5,81.6 L623.0,82.5 L623.5,83.4 L624.0,84.4 L624.5,85.4 L625.0,86.4 L625.5,87.5 L626.0,88.5 L626.5,89.6 L627.0,90.7 L627.5,91.8 L628.0,93.0 L628.5,94.2 L629.0,95.3 L629.5,96.5 L630.0,97.6 L630.5,98.7 L631.0,99.7 L631.5,100.7 L632.0,101.5 L632.5,102.3 L633.0,102.9 L633.5,103.3 L634.0,103.7 L634.5,103.8 L635.0,103.8 L635.5,103.6 L636.0,103.2 L636.5,102.8 L637.0,102.2 L637.5,101.5 L638.0,100.7 L638.5,99.9 L639.0,99.0 L639.5,98.0 L640.0,97.0 L640.5,96.0 L641.0,94.9 L641.5,93.8 L642.0,92.8 L642.5,91.7 L643.0,90.7 L643.5,89.7 L644.0,88.8 L644.5,87.8 L645.0,87.0 L645.5,86.2 L646.0,85.5 L646.5,84.8 L647.0,84.2 L647.5,83.7 L648.0,83.2 L648.5,82.7 L649.0,82.3 L649.5,81.9 L650.0,81.5 L650.5,81.2 L651.0,80.8 L651.5,80.6 L652.0,80.3 L652.5,80.1 L653.0,80.0 L653.5,79.9 L654.0,79.9 L654.5,79.9 L655.0,80.0 L655.5,80.1 L656.0,80.1 L656.3,80.2" stroke="#FFA90C" stroke-width="1.55" fill="none" stroke-linejoin="round" stroke-dasharray="2.7 1.6 0.7 1.4"/>
<path d="M397.0,297.4 L397.5,297.4 L398.0,297.4 L398.5,297.4 L399.0,297.3 L399.5,297.3 L400.0,297.3 L400.5,297.3 L401.0,297.3 L401.5,297.3 L402.0,297.2 L402.5,297.2 L403.0,297.2 L403.5,297.2 L404.0,297.2 L404.5,297.1 L405.0,297.1 L405.5,297.1 L406.0,297.1 L406.5,297.1 L407.0,297.1 L407.5,297.0 L408.0,297.0 L408.5,297.0 L409.0,297.0 L409.5,297.0 L410.0,297.0 L410.5,296.9 L411.0,296.9 L411.5,296.9 L412.0,296.9 L412.5,296.9 L413.0,296.9 L413.5,296.8 L414.0,296.8 L414.5,296.8 L415.0,296.8 L415.5,296.8 L416.0,296.7 L416.5,296.7 L417.0,296.7 L417.5,296.7 L418.0,296.7 L418.5,296.7 L419.0,296.6 L419.5,296.6 L420.0,296.6 L420.5,296.6 L421.0,296.6 L421.5,296.5 L422.0,296.5 L422.5,296.5 L423.0,296.5 L423.5,296.5 L424.0,296.4 L424.5,296.4 L425.0,296.4 L425.5,296.4 L426.0,296.4 L426.5,296.3 L427.0,296.3 L427.5,296.3 L428.0,296.3 L428.5,296.2 L429.0,296.2 L429.5,296.2 L430.0,296.2 L430.5,296.1 L431.0,296.1 L431.5,296.1 L432.0,296.1 L432.5,296.0 L433.0,296.0 L433.5,296.0 L434.0,295.9 L434.5,295.9 L435.0,295.9 L435.5,295.8 L436.0,295.8 L436.5,295.8 L437.0,295.7 L437.5,295.7 L438.0,295.7 L438.5,295.6 L439.0,295.6 L439.5,295.5 L440.0,295.5 L440.5,295.5 L441.0,295.4 L441.5,295.4 L442.0,295.3 L442.5,295.3 L443.0,295.2 L443.5,295.2 L444.0,295.1 L444.5,295.1 L445.0,295.0 L445.5,294.9 L446.0,294.9 L446.5,294.8 L447.0,294.8 L447.5,294.7 L448.0,294.6 L448.5,294.5 L449.0,294.5 L449.5,294.4 L450.0,294.3 L450.5,294.2 L451.0,294.1 L451.5,294.0 L452.0,293.9 L452.5,293.8 L453.0,293.7 L453.5,293.5 L454.0,293.4 L454.5,293.2 L455.0,293.0 L455.5,292.8 L456.0,292.6 L456.5,292.3 L457.0,292.0 L457.5,291.7 L458.0,291.4 L458.5,291.0 L459.0,290.6 L459.5,290.2 L460.0,289.8 L460.5,289.3 L461.0,288.8 L461.5,288.3 L462.0,287.7 L462.5,287.2 L463.0,286.6 L463.5,286.0 L464.0,285.4 L464.5,284.8 L465.0,284.1 L465.5,283.5 L466.0,282.8 L466.5,282.2 L467.0,281.5 L467.5,280.8 L468.0,280.1 L468.5,279.4 L469.0,278.7 L469.5,278.0 L470.0,277.2 L470.5,276.4 L471.0,275.6 L471.5,274.8 L472.0,273.9 L472.5,273.0 L473.0,272.1 L473.5,271.1 L474.0,270.1 L474.5,269.1 L475.0,268.1 L475.5,267.1 L476.0,266.1 L476.5,265.1 L477.0,264.2 L477.5,263.3 L478.0,262.5 L478.5,261.7 L479.0,260.9 L479.5,260.1 L480.0,259.4 L480.5,258.7 L481.0,257.9 L481.5,257.2 L482.0,256.4 L482.5,255.6 L483.0,254.8 L483.5,254.0 L484.0,253.1 L484.5,252.3 L485.0,251.3 L485.5,250.4 L486.0,249.5 L486.5,248.5 L487.0,247.5 L487.5,246.5 L488.0,245.5 L488.5,244.5 L489.0,243.5 L489.5,242.5 L490.0,241.4 L490.5,240.4 L491.0,239.3 L491.5,238.1 L492.0,236.8 L492.5,235.5 L493.0,234.1 L493.5,232.5 L494.0,230.8 L494.5,229.0 L495.0,227.0 L495.5,224.9 L496.0,222.7 L496.5,220.5 L497.0,218.2 L497.5,216.0 L498.0,213.9 L498.5,211.8 L499.0,209.8 L499.5,208.0 L500.0,206.2 L500.5,204.5 L501.0,202.9 L501.5,201.5 L502.0,200.2 L502.5,199.0 L503.0,197.9 L503.5,196.9 L504.0,196.0 L504.5,195.2 L505.0,194.5 L505.5,194.0 L506.0,193.7 L506.5,193.6 L507.0,193.8 L507.5,194.0 L508.0,194.5 L508.5,195.0 L509.0,195.5 L509.5,196.1 L510.0,196.6 L510.5,197.2 L511.0,197.8 L511.5,198.4 L512.0,199.1 L512.5,199.8 L513.0,200.5 L513.5,201.3 L514.0,202.1 L514.5,202.9 L515.0,203.6 L515.5,204.3 L516.0,204.8 L516.5,205.2 L517.0,205.5 L517.5,205.5 L518.0,205.3 L518.5,204.9 L519.0,204.2 L519.5,203.4 L520.0,202.4 L520.5,201.3 L521.0,200.0 L521.5,198.6 L522.0,197.2 L522.5,195.7 L523.0,194.1 L523.5,192.6 L524.0,191.0 L524.5,189.5 L525.0,188.0 L525.5,186.5 L526.0,185.1 L526.5,183.7 L527.0,182.3 L527.5,180.9 L528.0,179.5 L528.5,178.1 L529.0,176.8 L529.5,175.5 L530.0,174.2 L530.5,173.1 L531.0,172.0 L531.5,171.1 L532.0,170.3 L532.5,169.6 L533.0,169.1 L533.5,168.7 L534.0,168.5 L534.5,168.4 L535.0,168.5 L535.5,168.7 L536.0,169.1 L536.5,169.7 L537.0,170.3 L537.5,171.1 L538.0,171.9 L538.5,172.9 L539.0,173.8 L539.5,174.7 L540.0,175.5 L540.5,176.2 L541.0,176.8 L541.5,177.2 L542.0,177.6 L542.5,177.9 L543.0,178.1 L543.5,178.3 L544.0,178.4 L544.5,178.5 L545.0,178.6 L545.5,178.5 L546.0,178.4 L546.5,178.2 L547.0,178.0 L547.5,177.6 L548.0,177.2 L548.5,176.7 L549.0,176.1 L549.5,175.5 L550.0,174.9 L550.5,174.2 L551.0,173.5 L551.5,172.8 L552.0,172.0 L552.5,171.3 L553.0,170.7 L553.5,170.0 L554.0,169.4 L554.5,168.7 L555.0,168.1 L555.5,167.4 L556.0,166.8 L556.5,166.1 L557.0,165.3 L557.5,164.5 L558.0,163.7 L558.5,162.7 L559.0,161.7 L559.5,160.6 L560.0,159.4 L560.5,158.1 L561.0,156.7 L561.5,155.2 L562.0,153.6 L562.5,151.9 L563.0,150.2 L563.5,148.3 L564.0,146.4 L564.5,144.4 L565.0,142.3 L565.5,140.1 L566.0,137.7 L566.5,135.1 L567.0,132.2 L567.5,129.1 L568.0,125.7 L568.5,122.3 L569.0,118.7 L569.5,115.3 L570.0,112.0 L570.5,109.0 L571.0,106.1 L571.5,103.3 L572.0,100.4 L572.5,97.5 L573.0,94.3 L573.5,90.8 L574.0,86.8 L574.5,82.6 L575.0,78.3 L575.5,74.0 L576.0,70.0 L576.5,66.2 L577.0,62.8 L577.5,59.7 L578.0,56.9 L578.5,54.5 L579.0,52.4 L579.5,50.5 L580.0,48.9 L580.5,47.5 L581.0,46.6 L581.5,46.1 L582.0,46.3 L582.5,47.0 L583.0,48.2 L583.5,49.9 L584.0,51.8 L584.5,53.9 L585.0,56.2 L585.5,58.7 L586.0,61.1 L586.5,63.6 L587.0,65.9 L587.5,68.2 L588.0,70.4 L588.5,72.5 L589.0,74.4 L589.5,76.2 L590.0,77.9 L590.5,79.4 L591.0,80.8 L591.5,82.1 L592.0,83.2 L592.5,84.3 L593.0,85.3 L593.5,86.2 L594.0,87.0 L594.5,87.7 L595.0,88.4 L595.5,89.0 L596.0,89.5 L596.5,89.9 L597.0,90.3 L597.5,90.7 L598.0,90.9 L598.5,91.1 L599.0,91.2 L599.5,91.3 L600.0,91.3 L600.5,91.3 L601.0,91.3 L601.5,91.2 L602.0,91.0 L602.5,90.8 L603.0,90.6 L603.5,90.4 L604.0,90.1 L604.5,89.8 L605.0,89.5 L605.5,89.2 L606.0,88.8 L606.5,88.4 L607.0,88.0 L607.5,87.6 L608.0,87.2 L608.5,86.8 L609.0,86.3 L609.5,85.9 L610.0,85.5 L610.5,85.1 L611.0,84.8 L611.5,84.4 L612.0,84.1 L612.5,83.9 L613.0,83.7 L613.5,83.6 L614.0,83.5 L614.5,83.5 L615.0,83.6 L615.5,83.7 L616.0,83.9 L616.5,84.2 L617.0,84.6 L617.5,85.1 L618.0,85.6 L618.5,86.2 L619.0,87.0 L619.5,87.8 L620.0,88.6 L620.5,89.6 L621.0,90.6 L621.5,91.7 L622.0,92.9 L622.5,94.1 L623.0,95.3 L623.5,96.6 L624.0,98.0 L624.5,99.4 L625.0,100.8 L625.5,102.3 L626.0,103.7 L626.5,105.2 L627.0,106.6 L627.5,108.1 L628.0,109.5 L628.5,110.9 L629.0,112.2 L629.5,113.4 L630.0,114.6 L630.5,115.6 L631.0,116.4 L631.5,117.0 L632.0,117.5 L632.5,117.6 L633.0,117.6 L633.5,117.3 L634.0,116.9 L634.5,116.3 L635.0,115.6 L635.5,114.8 L636.0,114.0 L636.5,113.2 L637.0,112.3 L637.5,111.5 L638.0,110.6 L638.5,109.7 L639.0,108.8 L639.5,107.9 L640.0,106.9 L640.5,106.0 L641.0,105.0 L641.5,104.0 L642.0,103.0 L642.5,102.0 L643.0,100.9 L643.5,99.9 L644.0,99.0 L644.5,98.0 L645.0,97.1 L645.5,96.3 L646.0,95.5 L646.5,94.8 L647.0,94.1 L647.5,93.5 L648.0,93.0 L648.5,92.5 L649.0,92.1 L649.5,91.7 L650.0,91.4 L650.5,91.1 L651.0,90.8 L651.5,90.6 L652.0,90.3 L652.5,90.2 L653.0,90.0 L653.5,89.9 L654.0,89.9 L654.5,89.9 L655.0,90.0 L655.5,90.0 L656.0,90.1 L656.3,90.2" stroke="#FFA90C" stroke-width="1.55" fill="none" stroke-linejoin="round"/>
<path d="M397.0,297.4 L397.5,297.4 L398.0,297.4 L398.5,297.4 L399.0,297.3 L399.5,297.3 L400.0,297.3 L400.5,297.3 L401.0,297.3 L401.5,297.3 L402.0,297.2 L402.5,297.2 L403.0,297.2 L403.5,297.2 L404.0,297.2 L404.5,297.2 L405.0,297.1 L405.5,297.1 L406.0,297.1 L406.5,297.1 L407.0,297.1 L407.5,297.1 L408.0,297.1 L408.5,297.0 L409.0,297.0 L409.5,297.0 L410.0,297.0 L410.5,297.0 L411.0,296.9 L411.5,296.9 L412.0,296.9 L412.5,296.9 L413.0,296.9 L413.5,296.9 L414.0,296.8 L414.5,296.8 L415.0,296.8 L415.5,296.8 L416.0,296.8 L416.5,296.7 L417.0,296.7 L417.5,296.7 L418.0,296.7 L418.5,296.7 L419.0,296.6 L419.5,296.6 L420.0,296.6 L420.5,296.6 L421.0,296.6 L421.5,296.5 L422.0,296.5 L422.5,296.5 L423.0,296.5 L423.5,296.4 L424.0,296.4 L424.5,296.4 L425.0,296.4 L425.5,296.3 L426.0,296.3 L426.5,296.3 L427.0,296.3 L427.5,296.2 L428.0,296.2 L428.5,296.2 L429.0,296.2 L429.5,296.1 L430.0,296.1 L430.5,296.1 L431.0,296.1 L431.5,296.0 L432.0,296.0 L432.5,296.0 L433.0,295.9 L433.5,295.9 L434.0,295.9 L434.5,295.9 L435.0,295.8 L435.5,295.8 L436.0,295.8 L436.5,295.7 L437.0,295.7 L437.5,295.7 L438.0,295.6 L438.5,295.6 L439.0,295.6 L439.5,295.5 L440.0,295.5 L440.5,295.5 L441.0,295.4 L441.5,295.4 L442.0,295.4 L442.5,295.3 L443.0,295.3 L443.5,295.2 L444.0,295.2 L444.5,295.2 L445.0,295.1 L445.5,295.1 L446.0,295.0 L446.5,295.0 L447.0,294.9 L447.5,294.9 L448.0,294.8 L448.5,294.8 L449.0,294.7 L449.5,294.7 L450.0,294.6 L450.5,294.5 L451.0,294.5 L451.5,294.4 L452.0,294.3 L452.5,294.2 L453.0,294.1 L453.5,294.0 L454.0,293.9 L454.5,293.7 L455.0,293.5 L455.5,293.3 L456.0,293.1 L456.5,292.8 L457.0,292.6 L457.5,292.2 L458.0,291.9 L458.5,291.5 L459.0,291.1 L459.5,290.7 L460.0,290.2 L460.5,289.7 L461.0,289.1 L461.5,288.6 L462.0,288.0 L462.5,287.4 L463.0,286.8 L463.5,286.1 L464.0,285.5 L464.5,284.8 L465.0,284.1 L465.5,283.4 L466.0,282.7 L466.5,282.0 L467.0,281.3 L467.5,280.5 L468.0,279.8 L468.5,279.0 L469.0,278.3 L469.5,277.6 L470.0,276.8 L470.5,276.1 L471.0,275.3 L471.5,274.6 L472.0,273.9 L472.5,273.1 L473.0,272.4 L473.5,271.7 L474.0,271.0 L474.5,270.3 L475.0,269.5 L475.5,268.8 L476.0,268.1 L476.5,267.4 L477.0,266.7 L477.5,266.1 L478.0,265.4 L478.5,264.7 L479.0,264.0 L479.5,263.3 L480.0,262.6 L480.5,261.9 L481.0,261.3 L481.5,260.6 L482.0,259.9 L482.5,259.3 L483.0,258.6 L483.5,258.0 L484.0,257.4 L484.5,256.8 L485.0,256.1 L485.5,255.5 L486.0,254.7 L486.5,254.0 L487.0,253.1 L487.5,252.1 L488.0,251.0 L488.5,249.8 L489.0,248.4 L489.5,246.9 L490.0,245.2 L490.5,243.4 L491.0,241.6 L491.5,239.7 L492.0,237.8 L492.5,235.8 L493.0,233.9 L493.5,232.1 L494.0,230.3 L494.5,228.6 L495.0,227.0 L495.5,225.4 L496.0,223.9 L496.5,222.3 L497.0,220.8 L497.5,219.2 L498.0,217.5 L498.5,215.8 L499.0,214.0 L499.5,212.3 L500.0,210.6 L500.5,209.0 L501.0,207.5 L501.5,206.1 L502.0,204.9 L502.5,203.8 L503.0,203.0 L503.5,202.4 L504.0,201.9 L504.5,201.7 L505.0,201.6 L505.5,201.7 L506.0,201.8 L506.5,202.1 L507.0,202.5 L507.5,203.0 L508.0,203.5 L508.5,204.0 L509.0,204.5 L509.5,205.0 L510.0,205.5 L510.5,206.1 L511.0,206.6 L511.5,207.2 L512.0,207.7 L512.5,208.3 L513.0,209.0 L513.5,209.7 L514.0,210.4 L514.5,211.1 L515.0,211.7 L515.5,212.2 L516.0,212.6 L516.5,212.8 L517.0,212.8 L517.5,212.5 L518.0,212.0 L518.5,211.1 L519.0,210.1 L519.5,208.9 L520.0,207.5 L520.5,206.0 L521.0,204.4 L521.5,202.7 L522.0,201.0 L522.5,199.2 L523.0,197.5 L523.5,195.8 L524.0,194.1 L524.5,192.4 L525.0,190.8 L525.5,189.3 L526.0,187.9 L526.5,186.5 L527.0,185.2 L527.5,184.0 L528.0,182.9 L528.5,181.9 L529.0,181.0 L529.5,180.1 L530.0,179.3 L530.5,178.5 L531.0,177.8 L531.5,177.2 L532.0,176.6 L532.5,176.1 L533.0,175.7 L533.5,175.4 L534.0,175.1 L534.5,175.0 L535.0,175.0 L535.5,175.1 L536.0,175.3 L536.5,175.6 L537.0,176.0 L537.5,176.4 L538.0,176.9 L538.5,177.5 L539.0,178.1 L539.5,178.7 L540.0,179.4 L540.5,180.1 L541.0,180.8 L541.5,181.5 L542.0,182.3 L542.5,183.0 L543.0,183.7 L543.5,184.4 L544.0,185.1 L544.5,185.8 L545.0,186.4 L545.5,187.0 L546.0,187.5 L546.5,188.0 L547.0,188.4 L547.5,188.7 L548.0,188.9 L548.5,189.0 L549.0,189.0 L549.5,188.9 L550.0,188.7 L550.5,188.5 L551.0,188.1 L551.5,187.7 L552.0,187.2 L552.5,186.7 L553.0,186.1 L553.5,185.5 L554.0,184.8 L554.5,184.1 L555.0,183.4 L555.5,182.6 L556.0,181.8 L556.5,180.9 L557.0,180.0 L557.5,179.1 L558.0,178.1 L558.5,177.0 L559.0,175.9 L559.5,174.7 L560.0,173.4 L560.5,171.9 L561.0,170.4 L561.5,168.6 L562.0,166.6 L562.5,164.4 L563.0,162.0 L563.5,159.3 L564.0,156.4 L564.5,153.4 L565.0,150.2 L565.5,147.0 L566.0,143.8 L566.5,140.4 L567.0,136.9 L567.5,133.3 L568.0,129.3 L568.5,125.1 L569.0,120.6 L569.5,116.2 L570.0,111.9 L570.5,108.0 L571.0,104.5 L571.5,101.2 L572.0,97.8 L572.5,94.3 L573.0,90.4 L573.5,86.3 L574.0,82.1 L574.5,78.1 L575.0,74.2 L575.5,70.4 L576.0,66.9 L576.5,63.5 L577.0,60.3 L577.5,57.3 L578.0,54.6 L578.5,52.0 L579.0,49.7 L579.5,47.8 L580.0,46.3 L580.5,45.2 L581.0,44.8 L581.5,45.0 L582.0,45.8 L582.5,47.0 L583.0,48.6 L583.5,50.5 L584.0,52.6 L584.5,54.8 L585.0,57.1 L585.5,59.4 L586.0,61.8 L586.5,64.0 L587.0,66.1 L587.5,68.2 L588.0,70.1 L588.5,71.8 L589.0,73.5 L589.5,75.0 L590.0,76.4 L590.5,77.6 L591.0,78.8 L591.5,79.8 L592.0,80.6 L592.5,81.3 L593.0,81.9 L593.5,82.3 L594.0,82.6 L594.5,82.7 L595.0,82.7 L595.5,82.5 L596.0,82.3 L596.5,81.9 L597.0,81.5 L597.5,81.2 L598.0,80.8 L598.5,80.5 L599.0,80.3 L599.5,80.2 L600.0,80.3 L600.5,80.5 L601.0,81.0 L601.5,81.6 L602.0,82.4 L602.5,83.3 L603.0,84.3 L603.5,85.3 L604.0,86.3 L604.5,87.3 L605.0,88.3 L605.5,89.2 L606.0,90.2 L606.5,91.0 L607.0,91.9 L607.5,92.7 L608.0,93.4 L608.5,94.1 L609.0,94.7 L609.5,95.3 L610.0,95.8 L610.5,96.3 L611.0,96.6 L611.5,96.8 L612.0,97.0 L612.5,97.0 L613.0,97.0 L613.5,96.9 L614.0,96.8 L614.5,96.6 L615.0,96.4 L615.5,96.2 L616.0,96.1 L616.5,96.0 L617.0,96.0 L617.5,96.1 L618.0,96.3 L618.5,96.5 L619.0,96.8 L619.5,97.2 L620.0,97.7 L620.5,98.2 L621.0,98.8 L621.5,99.4 L622.0,100.0 L622.5,100.7 L623.0,101.3 L623.5,102.0 L624.0,102.7 L624.5,103.5 L625.0,104.2 L625.5,104.9 L626.0,105.6 L626.5,106.3 L627.0,107.0 L627.5,107.7 L628.0,108.3 L628.5,108.9 L629.0,109.5 L629.5,110.0 L630.0,110.5 L630.5,110.9 L631.0,111.3 L631.5,111.6 L632.0,111.8 L632.5,111.9 L633.0,112.0 L633.5,112.0 L634.0,111.9 L634.5,111.7 L635.0,111.4 L635.5,111.1 L636.0,110.7 L636.5,110.2 L637.0,109.7 L637.5,109.1 L638.0,108.4 L638.5,107.7 L639.0,107.0 L639.5,106.2 L640.0,105.4 L640.5,104.5 L641.0,103.6 L641.5,102.7 L642.0,101.8 L642.5,100.8 L643.0,99.9 L643.5,98.9 L644.0,97.9 L644.5,97.0 L645.0,96.0 L645.5,95.1 L646.0,94.1 L646.5,93.2 L647.0,92.4 L647.5,91.5 L648.0,90.7 L648.5,90.0 L649.0,89.3 L649.5,88.6 L650.0,88.0 L650.5,87.5 L651.0,87.0 L651.5,86.6 L652.0,86.3 L652.5,86.0 L653.0,85.8 L653.5,85.7 L654.0,85.6 L654.5,85.6 L655.0,85.6 L655.5,85.7 L656.0,85.8 L656.3,85.8" stroke="#7B68EE" stroke-width="1.55" fill="none" stroke-linejoin="round" stroke-dasharray="2.7 1.6 0.7 1.4"/>
<path d="M397.0,297.4 L397.5,297.4 L398.0,297.4 L398.5,297.4 L399.0,297.3 L399.5,297.3 L400.0,297.3 L400.5,297.3 L401.0,297.3 L401.5,297.3 L402.0,297.3 L402.5,297.2 L403.0,297.2 L403.5,297.2 L404.0,297.2 L404.5,297.2 L405.0,297.2 L405.5,297.1 L406.0,297.1 L406.5,297.1 L407.0,297.1 L407.5,297.1 L408.0,297.1 L408.5,297.1 L409.0,297.0 L409.5,297.0 L410.0,297.0 L410.5,297.0 L411.0,297.0 L411.5,296.9 L412.0,296.9 L412.5,296.9 L413.0,296.9 L413.5,296.9 L414.0,296.9 L414.5,296.8 L415.0,296.8 L415.5,296.8 L416.0,296.8 L416.5,296.8 L417.0,296.7 L417.5,296.7 L418.0,296.7 L418.5,296.7 L419.0,296.6 L419.5,296.6 L420.0,296.6 L420.5,296.6 L421.0,296.6 L421.5,296.5 L422.0,296.5 L422.5,296.5 L423.0,296.5 L423.5,296.4 L424.0,296.4 L424.5,296.4 L425.0,296.3 L425.5,296.3 L426.0,296.3 L426.5,296.3 L427.0,296.2 L427.5,296.2 L428.0,296.2 L428.5,296.2 L429.0,296.1 L429.5,296.1 L430.0,296.1 L430.5,296.0 L431.0,296.0 L431.5,296.0 L432.0,296.0 L432.5,295.9 L433.0,295.9 L433.5,295.9 L434.0,295.8 L434.5,295.8 L435.0,295.8 L435.5,295.8 L436.0,295.7 L436.5,295.7 L437.0,295.7 L437.5,295.6 L438.0,295.6 L438.5,295.6 L439.0,295.6 L439.5,295.5 L440.0,295.5 L440.5,295.5 L441.0,295.4 L441.5,295.4 L442.0,295.4 L442.5,295.4 L443.0,295.3 L443.5,295.3 L444.0,295.3 L444.5,295.2 L445.0,295.2 L445.5,295.2 L446.0,295.1 L446.5,295.1 L447.0,295.0 L447.5,295.0 L448.0,294.9 L448.5,294.9 L449.0,294.8 L449.5,294.8 L450.0,294.7 L450.5,294.6 L451.0,294.6 L451.5,294.5 L452.0,294.4 L452.5,294.3 L453.0,294.2 L453.5,294.0 L454.0,293.9 L454.5,293.7 L455.0,293.5 L455.5,293.3 L456.0,293.1 L456.5,292.8 L457.0,292.5 L457.5,292.2 L458.0,291.8 L458.5,291.4 L459.0,291.0 L459.5,290.5 L460.0,290.0 L460.5,289.5 L461.0,288.9 L461.5,288.4 L462.0,287.8 L462.5,287.1 L463.0,286.5 L463.5,285.8 L464.0,285.2 L464.5,284.5 L465.0,283.7 L465.5,283.0 L466.0,282.3 L466.5,281.6 L467.0,280.8 L467.5,280.1 L468.0,279.3 L468.5,278.5 L469.0,277.8 L469.5,277.0 L470.0,276.2 L470.5,275.5 L471.0,274.7 L471.5,273.9 L472.0,273.1 L472.5,272.4 L473.0,271.6 L473.5,270.9 L474.0,270.1 L474.5,269.4 L475.0,268.6 L475.5,267.9 L476.0,267.1 L476.5,266.4 L477.0,265.7 L477.5,265.0 L478.0,264.3 L478.5,263.6 L479.0,262.9 L479.5,262.2 L480.0,261.5 L480.5,260.8 L481.0,260.2 L481.5,259.5 L482.0,258.8 L482.5,258.2 L483.0,257.6 L483.5,256.9 L484.0,256.3 L484.5,255.6 L485.0,255.0 L485.5,254.3 L486.0,253.6 L486.5,252.8 L487.0,251.9 L487.5,251.0 L488.0,249.9 L488.5,248.7 L489.0,247.3 L489.5,245.9 L490.0,244.3 L490.5,242.6 L491.0,240.8 L491.5,238.9 L492.0,237.0 L492.5,235.1 L493.0,233.1 L493.5,231.2 L494.0,229.2 L494.5,227.3 L495.0,225.5 L495.5,223.6 L496.0,221.8 L496.5,219.9 L497.0,218.1 L497.5,216.2 L498.0,214.4 L498.5,212.5 L499.0,210.6 L499.5,208.8 L500.0,207.0 L500.5,205.3 L501.0,203.7 L501.5,202.3 L502.0,201.0 L502.5,199.9 L503.0,199.0 L503.5,198.2 L504.0,197.6 L504.5,197.1 L505.0,196.8 L505.5,196.6 L506.0,196.5 L506.5,196.5 L507.0,196.6 L507.5,196.8 L508.0,197.1 L508.5,197.6 L509.0,198.2 L509.5,198.9 L510.0,199.7 L510.5,200.5 L511.0,201.3 L511.5,202.0 L512.0,202.7 L512.5,203.4 L513.0,204.1 L513.5,204.8 L514.0,205.5 L514.5,206.3 L515.0,207.0 L515.5,207.7 L516.0,208.3 L516.5,208.7 L517.0,208.8 L517.5,208.7 L518.0,208.2 L518.5,207.4 L519.0,206.4 L519.5,205.1 L520.0,203.6 L520.5,202.0 L521.0,200.3 L521.5,198.5 L522.0,196.7 L522.5,194.9 L523.0,193.1 L523.5,191.4 L524.0,189.8 L524.5,188.2 L525.0,186.7 L525.5,185.3 L526.0,184.0 L526.5,182.7 L527.0,181.6 L527.5,180.5 L528.0,179.5 L528.5,178.5 L529.0,177.6 L529.5,176.8 L530.0,176.0 L530.5,175.3 L531.0,174.6 L531.5,174.0 L532.0,173.5 L532.5,173.1 L533.0,172.8 L533.5,172.5 L534.0,172.3 L534.5,172.3 L535.0,172.3 L535.5,172.5 L536.0,172.8 L536.5,173.1 L537.0,173.5 L537.5,174.0 L538.0,174.5 L538.5,175.1 L539.0,175.7 L539.5,176.3 L540.0,177.0 L540.5,177.7 L541.0,178.4 L541.5,179.2 L542.0,180.0 L542.5,180.8 L543.0,181.6 L543.5,182.5 L544.0,183.3 L544.5,184.1 L545.0,184.8 L545.5,185.5 L546.0,186.1 L546.5,186.7 L547.0,187.2 L547.5,187.5 L548.0,187.8 L548.5,187.9 L549.0,187.9 L549.5,187.8 L550.0,187.6 L550.5,187.3 L551.0,186.9 L551.5,186.4 L552.0,185.9 L552.5,185.3 L553.0,184.7 L553.5,184.0 L554.0,183.3 L554.5,182.6 L555.0,181.8 L555.5,181.0 L556.0,180.2 L556.5,179.3 L557.0,178.4 L557.5,177.5 L558.0,176.5 L558.5,175.5 L559.0,174.4 L559.5,173.2 L560.0,172.0 L560.5,170.6 L561.0,169.0 L561.5,167.1 L562.0,165.1 L562.5,162.8 L563.0,160.2 L563.5,157.3 L564.0,154.3 L564.5,151.1 L565.0,147.9 L565.5,144.7 L566.0,141.5 L566.5,138.2 L567.0,134.8 L567.5,131.2 L568.0,127.2 L568.5,122.9 L569.0,118.4 L569.5,114.0 L570.0,109.8 L570.5,106.0 L571.0,102.5 L571.5,99.2 L572.0,95.7 L572.5,92.1 L573.0,88.1 L573.5,84.1 L574.0,80.0 L574.5,76.0 L575.0,72.2 L575.5,68.5 L576.0,65.0 L576.5,61.7 L577.0,58.5 L577.5,55.6 L578.0,53.0 L578.5,50.6 L579.0,48.5 L579.5,46.8 L580.0,45.5 L580.5,44.6 L581.0,44.4 L581.5,44.6 L582.0,45.4 L582.5,46.6 L583.0,48.3 L583.5,50.4 L584.0,52.8 L584.5,55.3 L585.0,58.0 L585.5,60.7 L586.0,63.2 L586.5,65.5 L587.0,67.6 L587.5,69.6 L588.0,71.4 L588.5,73.2 L589.0,74.9 L589.5,76.5 L590.0,78.0 L590.5,79.4 L591.0,80.7 L591.5,81.9 L592.0,83.0 L592.5,83.9 L593.0,84.7 L593.5,85.4 L594.0,86.0 L594.5,86.5 L595.0,87.0 L595.5,87.3 L596.0,87.7 L596.5,88.0 L597.0,88.3 L597.5,88.7 L598.0,89.0 L598.5,89.4 L599.0,89.7 L599.5,90.1 L600.0,90.5 L600.5,90.9 L601.0,91.4 L601.5,91.8 L602.0,92.3 L602.5,92.7 L603.0,93.2 L603.5,93.7 L604.0,94.2 L604.5,94.7 L605.0,95.2 L605.5,95.7 L606.0,96.2 L606.5,96.7 L607.0,97.2 L607.5,97.7 L608.0,98.1 L608.5,98.6 L609.0,99.0 L609.5,99.4 L610.0,99.8 L610.5,100.1 L611.0,100.3 L611.5,100.5 L612.0,100.5 L612.5,100.4 L613.0,100.3 L613.5,100.1 L614.0,99.9 L614.5,99.6 L615.0,99.4 L615.5,99.2 L616.0,99.1 L616.5,99.1 L617.0,99.2 L617.5,99.4 L618.0,99.7 L618.5,100.1 L619.0,100.6 L619.5,101.1 L620.0,101.7 L620.5,102.3 L621.0,103.0 L621.5,103.7 L622.0,104.4 L622.5,105.1 L623.0,105.9 L623.5,106.7 L624.0,107.5 L624.5,108.3 L625.0,109.2 L625.5,110.1 L626.0,111.0 L626.5,111.9 L627.0,112.9 L627.5,113.9 L628.0,114.8 L628.5,115.7 L629.0,116.6 L629.5,117.4 L630.0,118.2 L630.5,118.9 L631.0,119.4 L631.5,119.9 L632.0,120.3 L632.5,120.5 L633.0,120.5 L633.5,120.5 L634.0,120.3 L634.5,119.9 L635.0,119.5 L635.5,119.0 L636.0,118.3 L636.5,117.6 L637.0,116.8 L637.5,115.9 L638.0,115.0 L638.5,114.0 L639.0,113.0 L639.5,111.9 L640.0,110.8 L640.5,109.6 L641.0,108.4 L641.5,107.2 L642.0,106.0 L642.5,104.8 L643.0,103.6 L643.5,102.5 L644.0,101.3 L644.5,100.1 L645.0,99.0 L645.5,97.9 L646.0,96.9 L646.5,95.9 L647.0,94.9 L647.5,94.0 L648.0,93.2 L648.5,92.4 L649.0,91.7 L649.5,91.1 L650.0,90.5 L650.5,90.0 L651.0,89.6 L651.5,89.3 L652.0,89.1 L652.5,89.0 L653.0,88.9 L653.5,88.9 L654.0,89.0 L654.5,89.1 L655.0,89.3 L655.5,89.5 L656.0,89.8 L656.3,89.9" stroke="#7B68EE" stroke-width="1.55" fill="none" stroke-linejoin="round"/>
<path d="M382.50,22.40H670.80V310.60H382.50" fill="none" stroke="#333333" stroke-width="1.3"/>
<path d="M382.50,22.40V311.25" stroke="#484848" stroke-width="1.70"/>
<rect x="382.50" y="0.7" width="288.30" height="21.7" fill="#66C2A5" stroke="#333333" stroke-width="1.3"/>
<text transform="translate(521.10,17) scale(1.005,0.965)" font-size="18" text-anchor="middle" fill="#000">Non-rhizosphere</text>
<text x="360.20" y="17.9" font-size="20" font-weight="bold" fill="#000">b</text>
<path d="M395.30,310.60V313.90M449.93,310.60V313.90M504.55,310.60V313.90M559.17,310.60V313.90M613.80,310.60V313.90M668.42,310.60V313.90M378.90,298.10H382.50M378.90,232.60H382.50M378.90,167.10H382.50M378.90,101.60H382.50M378.90,36.10H382.50" stroke="#333333" stroke-width="1.2" fill="none"/>
<text transform="translate(395.30,326.2) scale(1,1.11)" font-size="13.3" text-anchor="middle" fill="#4D4D4D">280.0</text>
<text transform="translate(449.93,326.2) scale(1,1.11)" font-size="13.3" text-anchor="middle" fill="#4D4D4D">282.5</text>
<text transform="translate(504.55,326.2) scale(1,1.11)" font-size="13.3" text-anchor="middle" fill="#4D4D4D">285.0</text>
<text transform="translate(559.17,326.2) scale(1,1.11)" font-size="13.3" text-anchor="middle" fill="#4D4D4D">287.5</text>
<text transform="translate(613.80,326.2) scale(1,1.11)" font-size="13.3" text-anchor="middle" fill="#4D4D4D">290.0</text>
<text transform="translate(668.42,326.2) scale(1,1.11)" font-size="13.3" text-anchor="middle" fill="#4D4D4D">292.5</text>
<text transform="translate(376.20,302.80) scale(1,1.11)" font-size="13.3" text-anchor="end" fill="#4D4D4D">0.00</text>
<text transform="translate(376.20,237.30) scale(1,1.11)" font-size="13.3" text-anchor="end" fill="#4D4D4D">0.25</text>
<text transform="translate(376.20,171.80) scale(1,1.11)" font-size="13.3" text-anchor="end" fill="#4D4D4D">0.50</text>
<text transform="translate(376.20,106.30) scale(1,1.11)" font-size="13.3" text-anchor="end" fill="#4D4D4D">0.75</text>
<text transform="translate(376.20,40.80) scale(1,1.11)" font-size="13.3" text-anchor="end" fill="#4D4D4D">1.00</text>
<text transform="translate(349.8,348.6) scale(1,1.1)" font-size="15.4" text-anchor="middle" fill="#000">X-ray absorption energy (eV)</text>
<text transform="translate(11.9,166.6) rotate(-90) scale(1,1.08)" font-size="15.4" text-anchor="middle" fill="#000">Normalized absorbance</text>
</svg></body></html>
